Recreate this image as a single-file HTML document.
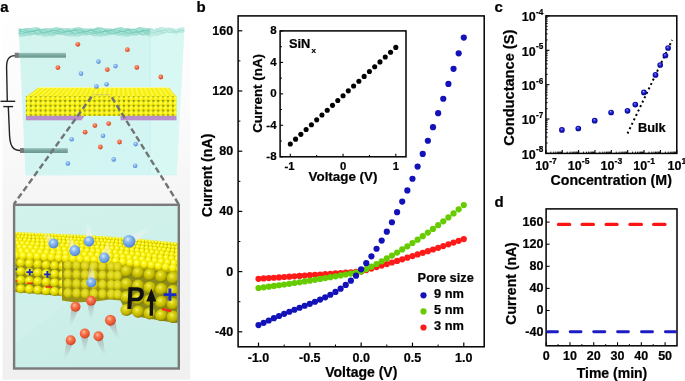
<!DOCTYPE html>
<html><head><meta charset="utf-8"><style>
html,body{margin:0;padding:0;background:#fff;}
body{width:685px;height:381px;overflow:hidden;}
svg{display:block;will-change:transform;}
</style></head><body>
<svg width="685" height="381" viewBox="0 0 685 381">
<defs>
<radialGradient id="sph" cx="0.5" cy="0.5" r="0.5" fx="0.42" fy="0.32">
<stop offset="0" stop-color="#e0e0ff"/><stop offset="0.22" stop-color="#5050e8"/><stop offset="0.6" stop-color="#1414c0"/><stop offset="1" stop-color="#06068a"/>
</radialGradient>
</defs>
<defs>
<linearGradient id="abg" x1="0" y1="0" x2="0" y2="1">
 <stop offset="0" stop-color="#ffffff"/><stop offset="0.3" stop-color="#fbfbfb"/><stop offset="0.55" stop-color="#f5f5f5"/><stop offset="1" stop-color="#f0f0f0"/>
</linearGradient>
<linearGradient id="water" x1="0" y1="0" x2="1" y2="1">
 <stop offset="0" stop-color="#d3f4ee"/><stop offset="1" stop-color="#d2f6f5"/>
</linearGradient>
<linearGradient id="inbg" x1="0" y1="0" x2="0.3" y2="1">
 <stop offset="0" stop-color="#d2f3ec"/><stop offset="1" stop-color="#c9ede7"/>
</linearGradient>
<radialGradient id="ys" cx="0.4" cy="0.35" r="0.65">
 <stop offset="0" stop-color="#ffffb0"/><stop offset="0.3" stop-color="#fffa20"/><stop offset="0.8" stop-color="#eee000"/><stop offset="1" stop-color="#c8b800"/>
</radialGradient>
<radialGradient id="bs" cx="0.4" cy="0.35" r="0.65">
 <stop offset="0" stop-color="#d8ecff"/><stop offset="0.35" stop-color="#8cbcf0"/><stop offset="0.9" stop-color="#5a8ee0"/><stop offset="1" stop-color="#4a7ad0"/>
</radialGradient>
<radialGradient id="rs" cx="0.4" cy="0.35" r="0.65">
 <stop offset="0" stop-color="#ffc0a0"/><stop offset="0.35" stop-color="#f87850"/><stop offset="0.9" stop-color="#e04a28"/><stop offset="1" stop-color="#c03818"/>
</radialGradient>
<radialGradient id="ysd" cx="0.4" cy="0.35" r="0.65">
 <stop offset="0" stop-color="#ffff90"/><stop offset="0.3" stop-color="#f6ee10"/><stop offset="0.75" stop-color="#d8cc00"/><stop offset="1" stop-color="#989000"/>
</radialGradient>
<radialGradient id="disc" cx="0.45" cy="0.4" r="0.6">
 <stop offset="0" stop-color="#ece640"/><stop offset="0.6" stop-color="#d8d010"/><stop offset="1" stop-color="#a8a000"/>
</radialGradient>
<radialGradient id="ysd2" cx="0.4" cy="0.35" r="0.65">
 <stop offset="0" stop-color="#f0f070"/><stop offset="0.3" stop-color="#dcd410"/><stop offset="0.75" stop-color="#bab000"/><stop offset="1" stop-color="#807800"/>
</radialGradient>
<radialGradient id="ysf" cx="0.45" cy="0.4" r="0.6">
 <stop offset="0" stop-color="#ffffa0"/><stop offset="0.35" stop-color="#fff820"/><stop offset="0.85" stop-color="#f0e400"/><stop offset="1" stop-color="#c8bc00"/>
</radialGradient>
<pattern id="pf" x="26" y="96.2" width="4.9" height="4.8" patternUnits="userSpaceOnUse">
 <rect width="4.9" height="4.8" fill="#4e7040"/>
 <circle cx="2.45" cy="2.4" r="2.62" fill="url(#ysf)"/>
</pattern>
<pattern id="pbig" x="10" y="255" width="9.2" height="9.6" patternUnits="userSpaceOnUse">
 <rect width="9.2" height="9.6" fill="#6f7a20"/>
 <circle cx="4.6" cy="4.8" r="4.7" fill="url(#ys)"/>
</pattern>
<pattern id="pbig2" x="116" y="266" width="11" height="12.5" patternUnits="userSpaceOnUse">
 <rect width="11" height="12.5" fill="#6f7a20"/>
 <circle cx="5.5" cy="6.25" r="5.8" fill="url(#ys)"/>
</pattern>
<pattern id="ptop" x="0" y="0" width="6" height="5" patternUnits="userSpaceOnUse">
 <rect width="6" height="5" fill="#c8bc00"/>
 <ellipse cx="3" cy="2.5" rx="3.1" ry="2.6" fill="url(#ys)"/>
</pattern>
<radialGradient id="trl" cx="0.5" cy="0.5" r="0.5">
 <stop offset="0" stop-color="#ffffff" stop-opacity="0.6"/><stop offset="1" stop-color="#ffffff" stop-opacity="0"/>
</radialGradient>
<linearGradient id="trd" x1="0" y1="0" x2="0" y2="1">
 <stop offset="0" stop-color="#909090" stop-opacity="0.6"/><stop offset="1" stop-color="#a0a0a0" stop-opacity="0"/>
</linearGradient>
<linearGradient id="tru" x1="0" y1="1" x2="0" y2="0">
 <stop offset="0" stop-color="#f4f4f0" stop-opacity="0.95"/><stop offset="0.5" stop-color="#f0f0ec" stop-opacity="0.6"/><stop offset="1" stop-color="#fff" stop-opacity="0"/>
</linearGradient>
<linearGradient id="elec" x1="0" y1="0" x2="0" y2="1">
 <stop offset="0" stop-color="#a2c8c2"/><stop offset="0.4" stop-color="#7eaaa4"/><stop offset="1" stop-color="#6a9690"/>
</linearGradient>
<linearGradient id="surf" x1="0" y1="0" x2="0" y2="1">
 <stop offset="0" stop-color="#b8ece4"/><stop offset="0.5" stop-color="#8ed8cc"/><stop offset="1" stop-color="#c4f0ea"/>
</linearGradient>
</defs>
<rect x="2.5" y="0" width="187.8" height="379.6" fill="url(#abg)"/>
<polygon points="18.7,29 184.3,29.5 176.6,175.3 25.5,175.4" fill="url(#water)"/>
<polygon points="150,37.5 184.3,29.5 176.6,175.3 150,172" fill="#dcf9f4" opacity="0.55"/>
<line x1="150" y1="37" x2="150" y2="172" stroke="#c4eee8" stroke-width="0.8"/>
<clipPath id="bandclip"><polygon points="18.7,28.0 22.5,29.1 26.2,28.1 30.0,28.2 33.8,27.4 37.5,27.0 41.3,28.7 45.0,28.6 48.8,28.3 52.6,28.1 56.3,26.8 60.1,27.7 63.9,28.8 67.6,28.3 71.4,28.6 75.2,27.5 78.9,26.8 82.7,28.4 86.4,28.4 90.2,28.6 94.0,28.4 97.7,26.8 101.5,27.5 105.3,28.4 109.0,28.3 112.8,29.0 116.6,27.7 120.3,26.9 124.1,28.0 127.8,28.0 131.6,28.7 135.4,28.8 139.1,27.0 142.9,27.5 146.7,27.9 150.4,28.1 154.2,29.2 158.0,28.0 161.7,27.1 165.5,27.8 169.2,27.6 173.0,28.7 176.8,29.0 180.5,27.4 184.3,27.5 184.3,32.2 180.5,32.4 176.8,33.6 173.0,32.9 169.2,32.9 165.5,33.0 161.7,33.7 158.0,35.3 154.2,35.8 150.4,37.0 146.7,35.5 142.9,35.7 139.1,34.4 135.4,35.7 131.6,35.6 127.8,37.0 124.1,36.4 120.3,36.1 116.6,35.2 112.8,34.8 109.0,35.5 105.3,35.7 101.5,37.0 97.7,36.1 94.0,36.4 90.2,34.7 86.4,35.4 82.7,34.9 78.9,36.4 75.2,36.4 71.4,36.7 67.6,35.9 63.9,35.1 60.1,35.1 56.3,35.0 52.6,36.5 48.8,36.2 45.0,37.1 41.3,35.4 37.5,35.6 33.8,34.5 30.0,35.7 26.2,35.9 22.5,36.8 18.7,36.6"/></clipPath>
<polygon points="18.7,28.0 22.5,29.1 26.2,28.1 30.0,28.2 33.8,27.4 37.5,27.0 41.3,28.7 45.0,28.6 48.8,28.3 52.6,28.1 56.3,26.8 60.1,27.7 63.9,28.8 67.6,28.3 71.4,28.6 75.2,27.5 78.9,26.8 82.7,28.4 86.4,28.4 90.2,28.6 94.0,28.4 97.7,26.8 101.5,27.5 105.3,28.4 109.0,28.3 112.8,29.0 116.6,27.7 120.3,26.9 124.1,28.0 127.8,28.0 131.6,28.7 135.4,28.8 139.1,27.0 142.9,27.5 146.7,27.9 150.4,28.1 154.2,29.2 158.0,28.0 161.7,27.1 165.5,27.8 169.2,27.6 173.0,28.7 176.8,29.0 180.5,27.4 184.3,27.5 184.3,32.2 180.5,32.4 176.8,33.6 173.0,32.9 169.2,32.9 165.5,33.0 161.7,33.7 158.0,35.3 154.2,35.8 150.4,37.0 146.7,35.5 142.9,35.7 139.1,34.4 135.4,35.7 131.6,35.6 127.8,37.0 124.1,36.4 120.3,36.1 116.6,35.2 112.8,34.8 109.0,35.5 105.3,35.7 101.5,37.0 97.7,36.1 94.0,36.4 90.2,34.7 86.4,35.4 82.7,34.9 78.9,36.4 75.2,36.4 71.4,36.7 67.6,35.9 63.9,35.1 60.1,35.1 56.3,35.0 52.6,36.5 48.8,36.2 45.0,37.1 41.3,35.4 37.5,35.6 33.8,34.5 30.0,35.7 26.2,35.9 22.5,36.8 18.7,36.6" fill="#b0e6da"/>
<g clip-path="url(#bandclip)">
<polyline points="18.7,28.6 22.5,29.6 26.2,29.1 30.0,28.0 33.8,27.6 37.5,28.9 41.3,29.5 45.0,29.1 48.8,27.6 52.6,28.1 56.3,28.8 60.1,29.9 63.9,28.4 67.6,28.0 71.4,27.7 75.2,29.6 78.9,29.2 82.7,28.9 86.4,27.2 90.2,28.6 94.0,28.9 97.7,29.9 101.5,27.8 105.3,28.1 109.0,27.9 112.8,30.0 116.6,28.8 120.3,28.6 124.1,27.1 127.8,29.2 131.6,29.0 135.4,29.7 139.1,27.3 142.9,28.3 146.7,28.2 150.4,30.2 154.2,28.3 158.0,28.4 161.7,27.2 165.5,29.6 169.2,29.0 173.0,29.3 176.8,27.1 180.5,28.6 184.3,28.6" fill="none" stroke="#a0dccf" stroke-width="1.0" opacity="0.8"/>
<polyline points="18.7,31.0 22.5,29.2 26.2,29.1 30.0,28.5 33.8,30.6 37.5,30.1 41.3,29.9 45.0,28.2 48.8,29.5 52.6,29.9 56.3,30.7 60.1,29.0 63.9,28.8 67.6,29.0 71.4,30.7 75.2,30.0 78.9,29.3 82.7,28.4 86.4,29.7 90.2,30.4 94.0,30.2 97.7,28.8 101.5,28.7 105.3,29.7 109.0,30.5 112.8,29.9 116.6,28.7 120.3,28.8 124.1,29.8 127.8,30.7 131.6,29.5 135.4,28.8 139.1,28.7 142.9,30.3 146.7,30.2 150.4,29.7 154.2,28.3 158.0,29.4 161.7,30.0 165.5,30.7 169.2,28.9 173.0,28.9 176.8,28.9 180.5,30.8 184.3,29.8" fill="none" stroke="#8cd4c5" stroke-width="1.0" opacity="0.8"/>
<polyline points="18.7,30.8 22.5,28.9 26.2,30.8 30.0,30.8 33.8,31.8 37.5,29.5 41.3,30.1 45.0,29.8 48.8,32.0 52.6,30.5 56.3,30.5 60.1,29.0 63.9,31.2 67.6,30.9 71.4,31.5 75.2,29.1 78.9,30.3 82.7,30.3 86.4,32.1 90.2,30.1 94.0,30.1 97.7,29.3 101.5,31.6 105.3,30.9 109.0,31.0 112.8,29.0 116.6,30.5 120.3,30.8 124.1,31.8 127.8,29.8 131.6,29.9 135.4,29.8 139.1,31.7 142.9,30.9 146.7,30.4 150.4,29.2 154.2,30.7 158.0,31.2 161.7,31.3 165.5,29.6 169.2,29.8 173.0,30.5 176.8,31.6 180.5,30.8 184.3,29.8" fill="none" stroke="#78ccba" stroke-width="1.0" opacity="0.8"/>
<polyline points="18.7,30.6 22.5,31.5 26.2,32.6 30.0,31.7 33.8,30.9 37.5,30.4 41.3,32.0 45.0,32.2 48.8,31.9 52.6,30.3 56.3,31.1 60.1,31.6 63.9,32.8 67.6,31.1 71.4,30.9 75.2,30.5 78.9,32.6 82.7,31.9 86.4,31.7 90.2,30.0 94.0,31.6 97.7,31.8 101.5,32.7 105.3,30.5 109.0,31.0 112.8,30.8 116.6,32.9 120.3,31.5 124.1,31.4 127.8,29.9 131.6,32.2 135.4,31.8 139.1,32.5 142.9,30.1 146.7,31.2 150.4,31.2 154.2,33.0 158.0,31.1 161.7,31.2 165.5,30.2 169.2,32.6 173.0,31.8 176.8,32.0 180.5,29.9 184.3,31.5" fill="none" stroke="#6ac5b2" stroke-width="1.0" opacity="0.8"/>
<polyline points="18.7,32.4 22.5,33.8 26.2,32.0 30.0,31.8 33.8,31.5 37.5,33.4 41.3,33.0 45.0,32.5 48.8,31.1 52.6,32.3 56.3,33.0 60.1,33.4 63.9,31.8 67.6,31.6 71.4,32.1 75.2,33.5 78.9,32.9 82.7,31.9 86.4,31.4 90.2,32.5 94.0,33.4 97.7,32.8 101.5,31.7 105.3,31.5 109.0,32.8 112.8,33.3 116.6,32.8 120.3,31.4 124.1,31.9 127.8,32.7 131.6,33.6 135.4,32.2 139.1,31.7 142.9,31.6 146.7,33.4 150.4,33.0 154.2,32.6 158.0,31.0 161.7,32.5 165.5,32.8 169.2,33.6 173.0,31.6 176.8,31.9 180.5,31.8 184.3,33.8" fill="none" stroke="#72c9b7" stroke-width="1.0" opacity="0.8"/>
<polyline points="18.7,33.6 22.5,33.6 26.2,31.8 30.0,33.8 33.8,33.7 37.5,34.6 41.3,32.2 45.0,33.0 48.8,32.8 52.6,34.9 56.3,33.2 60.1,33.2 63.9,31.9 67.6,34.2 71.4,33.8 75.2,34.2 78.9,31.9 82.7,33.2 86.4,33.3 90.2,34.9 94.0,32.9 97.7,32.9 101.5,32.3 105.3,34.5 109.0,33.8 112.8,33.6 116.6,31.9 120.3,33.4 124.1,33.8 127.8,34.5 131.6,32.6 135.4,32.7 139.1,32.9 142.9,34.5 146.7,33.7 150.4,33.0 154.2,32.2 158.0,33.6 161.7,34.2 165.5,34.0 169.2,32.5 173.0,32.6 176.8,33.5 180.5,34.4 184.3,33.6" fill="none" stroke="#80cfbf" stroke-width="1.0" opacity="0.8"/>
<polyline points="18.7,33.4 22.5,33.6 26.2,34.3 30.0,35.5 33.8,34.3 37.5,33.7 41.3,33.2 45.0,35.1 48.8,34.9 52.6,34.8 56.3,33.0 60.1,34.1 63.9,34.5 67.6,35.7 71.4,33.7 75.2,33.8 78.9,33.4 82.7,35.6 86.4,34.6 90.2,34.5 94.0,32.8 97.7,34.7 101.5,34.6 105.3,35.5 109.0,33.2 112.8,33.9 116.6,33.7 120.3,35.9 124.1,34.2 127.8,34.2 131.6,32.8 135.4,35.1 139.1,34.7 142.9,35.2 146.7,32.9 150.4,34.1 154.2,34.1 158.0,35.9 161.7,33.8 165.5,33.9 169.2,33.2 173.0,35.5 176.8,34.7 180.5,34.7 184.3,32.8" fill="none" stroke="#90d6c8" stroke-width="1.0" opacity="0.8"/>
<polyline points="18.7,35.0 22.5,35.5 26.2,36.5 30.0,34.8 33.8,34.6 37.5,34.5 41.3,36.3 45.0,35.8 48.8,35.2 52.6,34.0 56.3,35.2 60.1,36.0 63.9,36.1 67.6,34.6 71.4,34.4 75.2,35.2 78.9,36.2 82.7,35.8 86.4,34.6 90.2,34.4 94.0,35.4 97.7,36.3 101.5,35.5 105.3,34.6 109.0,34.3 112.8,35.8 116.6,36.0 120.3,35.6 124.1,34.1 127.8,34.9 131.6,35.5 135.4,36.5 139.1,34.8 142.9,34.6 146.7,34.4 150.4,36.4 154.2,35.7 158.0,35.4 161.7,33.8 165.5,35.5 169.2,35.6 173.0,36.4 176.8,34.2 180.5,34.8 184.3,34.7" fill="none" stroke="#a4dfd3" stroke-width="1.0" opacity="0.8"/>
<polyline points="18.7,37.7 22.5,36.3 26.2,36.3 30.0,34.6 33.8,36.8 37.5,36.6 41.3,37.4 45.0,35.0 48.8,35.9 52.6,35.8 56.3,37.8 60.1,36.0 63.9,36.0 67.6,34.9 71.4,37.1 75.2,36.7 78.9,36.9 82.7,34.8 86.4,36.1 90.2,36.3 94.0,37.6 97.7,35.7 101.5,35.7 105.3,35.3 109.0,37.3 112.8,36.7 116.6,36.3 120.3,34.9 124.1,36.3 127.8,36.8 131.6,37.2 135.4,35.5 139.1,35.5 142.9,35.9 146.7,37.3 150.4,36.6 154.2,35.7 158.0,35.2 161.7,36.4 165.5,37.1 169.2,36.6 173.0,35.4 176.8,35.4 180.5,36.6 184.3,37.1" fill="none" stroke="#b8e8de" stroke-width="1.0" opacity="0.8"/>
<polygon points="150,20 190,20 190,40 150,40" fill="#e4faf6" opacity="0.45"/>
</g>
<path d="M15.2,55.6 C9,55.6 6.6,59 6.6,67 L7.3,101.3" fill="none" stroke="#222" stroke-width="1.4"/>
<line x1="0.5" y1="101.3" x2="15.2" y2="101.3" stroke="#222" stroke-width="1.4"/>
<line x1="3.3" y1="106.6" x2="13.1" y2="106.6" stroke="#222" stroke-width="1.4"/>
<path d="M8.3,106.6 L9.6,136 C10.2,146 13,150.5 20.3,150.5" fill="none" stroke="#222" stroke-width="1.4"/>
<rect x="14.8" y="52.8" width="51.2" height="4.9" fill="url(#elec)"/>
<rect x="14.8" y="52.8" width="4.0" height="4.9" fill="#7a7a7a"/>
<rect x="20.0" y="148.1" width="47.8" height="4.9" fill="url(#elec)"/>
<rect x="20.0" y="148.1" width="4.0" height="4.9" fill="#7a7a7a"/>
<polygon points="38.9,87.4 168.4,87.4 176.5,97.3 25.9,97.3" fill="#faf41c"/>
<line x1="38.9" y1="87.6" x2="25.9" y2="97.2" stroke="#e8dc00" stroke-width="0.9" opacity="0.6"/>
<line x1="41.1" y1="87.6" x2="28.4" y2="97.2" stroke="#ffff90" stroke-width="0.9" opacity="0.6"/>
<line x1="43.2" y1="87.6" x2="30.9" y2="97.2" stroke="#e8dc00" stroke-width="0.9" opacity="0.6"/>
<line x1="45.4" y1="87.6" x2="33.4" y2="97.2" stroke="#ffff90" stroke-width="0.9" opacity="0.6"/>
<line x1="47.5" y1="87.6" x2="35.9" y2="97.2" stroke="#e8dc00" stroke-width="0.9" opacity="0.6"/>
<line x1="49.7" y1="87.6" x2="38.5" y2="97.2" stroke="#ffff90" stroke-width="0.9" opacity="0.6"/>
<line x1="51.8" y1="87.6" x2="41.0" y2="97.2" stroke="#e8dc00" stroke-width="0.9" opacity="0.6"/>
<line x1="54.0" y1="87.6" x2="43.5" y2="97.2" stroke="#ffff90" stroke-width="0.9" opacity="0.6"/>
<line x1="56.2" y1="87.6" x2="46.0" y2="97.2" stroke="#e8dc00" stroke-width="0.9" opacity="0.6"/>
<line x1="58.3" y1="87.6" x2="48.5" y2="97.2" stroke="#ffff90" stroke-width="0.9" opacity="0.6"/>
<line x1="60.5" y1="87.6" x2="51.0" y2="97.2" stroke="#e8dc00" stroke-width="0.9" opacity="0.6"/>
<line x1="62.6" y1="87.6" x2="53.5" y2="97.2" stroke="#ffff90" stroke-width="0.9" opacity="0.6"/>
<line x1="64.8" y1="87.6" x2="56.0" y2="97.2" stroke="#e8dc00" stroke-width="0.9" opacity="0.6"/>
<line x1="67.0" y1="87.6" x2="58.5" y2="97.2" stroke="#ffff90" stroke-width="0.9" opacity="0.6"/>
<line x1="69.1" y1="87.6" x2="61.0" y2="97.2" stroke="#e8dc00" stroke-width="0.9" opacity="0.6"/>
<line x1="71.3" y1="87.6" x2="63.5" y2="97.2" stroke="#ffff90" stroke-width="0.9" opacity="0.6"/>
<line x1="73.4" y1="87.6" x2="66.1" y2="97.2" stroke="#e8dc00" stroke-width="0.9" opacity="0.6"/>
<line x1="75.6" y1="87.6" x2="68.6" y2="97.2" stroke="#ffff90" stroke-width="0.9" opacity="0.6"/>
<line x1="77.8" y1="87.6" x2="71.1" y2="97.2" stroke="#e8dc00" stroke-width="0.9" opacity="0.6"/>
<line x1="79.9" y1="87.6" x2="73.6" y2="97.2" stroke="#ffff90" stroke-width="0.9" opacity="0.6"/>
<line x1="82.1" y1="87.6" x2="76.1" y2="97.2" stroke="#e8dc00" stroke-width="0.9" opacity="0.6"/>
<line x1="84.2" y1="87.6" x2="78.6" y2="97.2" stroke="#ffff90" stroke-width="0.9" opacity="0.6"/>
<line x1="86.4" y1="87.6" x2="81.1" y2="97.2" stroke="#e8dc00" stroke-width="0.9" opacity="0.6"/>
<line x1="88.5" y1="87.6" x2="83.6" y2="97.2" stroke="#ffff90" stroke-width="0.9" opacity="0.6"/>
<line x1="90.7" y1="87.6" x2="86.1" y2="97.2" stroke="#e8dc00" stroke-width="0.9" opacity="0.6"/>
<line x1="92.9" y1="87.6" x2="88.7" y2="97.2" stroke="#ffff90" stroke-width="0.9" opacity="0.6"/>
<line x1="95.0" y1="87.6" x2="91.2" y2="97.2" stroke="#e8dc00" stroke-width="0.9" opacity="0.6"/>
<line x1="97.2" y1="87.6" x2="93.7" y2="97.2" stroke="#ffff90" stroke-width="0.9" opacity="0.6"/>
<line x1="99.3" y1="87.6" x2="96.2" y2="97.2" stroke="#e8dc00" stroke-width="0.9" opacity="0.6"/>
<line x1="101.5" y1="87.6" x2="98.7" y2="97.2" stroke="#ffff90" stroke-width="0.9" opacity="0.6"/>
<line x1="103.7" y1="87.6" x2="101.2" y2="97.2" stroke="#e8dc00" stroke-width="0.9" opacity="0.6"/>
<line x1="105.8" y1="87.6" x2="103.7" y2="97.2" stroke="#ffff90" stroke-width="0.9" opacity="0.6"/>
<line x1="108.0" y1="87.6" x2="106.2" y2="97.2" stroke="#e8dc00" stroke-width="0.9" opacity="0.6"/>
<line x1="110.1" y1="87.6" x2="108.7" y2="97.2" stroke="#ffff90" stroke-width="0.9" opacity="0.6"/>
<line x1="112.3" y1="87.6" x2="111.2" y2="97.2" stroke="#e8dc00" stroke-width="0.9" opacity="0.6"/>
<line x1="114.4" y1="87.6" x2="113.8" y2="97.2" stroke="#ffff90" stroke-width="0.9" opacity="0.6"/>
<line x1="116.6" y1="87.6" x2="116.3" y2="97.2" stroke="#e8dc00" stroke-width="0.9" opacity="0.6"/>
<line x1="118.8" y1="87.6" x2="118.8" y2="97.2" stroke="#ffff90" stroke-width="0.9" opacity="0.6"/>
<line x1="120.9" y1="87.6" x2="121.3" y2="97.2" stroke="#e8dc00" stroke-width="0.9" opacity="0.6"/>
<line x1="123.1" y1="87.6" x2="123.8" y2="97.2" stroke="#ffff90" stroke-width="0.9" opacity="0.6"/>
<line x1="125.2" y1="87.6" x2="126.3" y2="97.2" stroke="#e8dc00" stroke-width="0.9" opacity="0.6"/>
<line x1="127.4" y1="87.6" x2="128.8" y2="97.2" stroke="#ffff90" stroke-width="0.9" opacity="0.6"/>
<line x1="129.6" y1="87.6" x2="131.3" y2="97.2" stroke="#e8dc00" stroke-width="0.9" opacity="0.6"/>
<line x1="131.7" y1="87.6" x2="133.8" y2="97.2" stroke="#ffff90" stroke-width="0.9" opacity="0.6"/>
<line x1="133.9" y1="87.6" x2="136.3" y2="97.2" stroke="#e8dc00" stroke-width="0.9" opacity="0.6"/>
<line x1="136.0" y1="87.6" x2="138.8" y2="97.2" stroke="#ffff90" stroke-width="0.9" opacity="0.6"/>
<line x1="138.2" y1="87.6" x2="141.4" y2="97.2" stroke="#e8dc00" stroke-width="0.9" opacity="0.6"/>
<line x1="140.3" y1="87.6" x2="143.9" y2="97.2" stroke="#ffff90" stroke-width="0.9" opacity="0.6"/>
<line x1="142.5" y1="87.6" x2="146.4" y2="97.2" stroke="#e8dc00" stroke-width="0.9" opacity="0.6"/>
<line x1="144.7" y1="87.6" x2="148.9" y2="97.2" stroke="#ffff90" stroke-width="0.9" opacity="0.6"/>
<line x1="146.8" y1="87.6" x2="151.4" y2="97.2" stroke="#e8dc00" stroke-width="0.9" opacity="0.6"/>
<line x1="149.0" y1="87.6" x2="153.9" y2="97.2" stroke="#ffff90" stroke-width="0.9" opacity="0.6"/>
<line x1="151.1" y1="87.6" x2="156.4" y2="97.2" stroke="#e8dc00" stroke-width="0.9" opacity="0.6"/>
<line x1="153.3" y1="87.6" x2="158.9" y2="97.2" stroke="#ffff90" stroke-width="0.9" opacity="0.6"/>
<line x1="155.4" y1="87.6" x2="161.4" y2="97.2" stroke="#e8dc00" stroke-width="0.9" opacity="0.6"/>
<line x1="157.6" y1="87.6" x2="164.0" y2="97.2" stroke="#ffff90" stroke-width="0.9" opacity="0.6"/>
<line x1="159.8" y1="87.6" x2="166.5" y2="97.2" stroke="#e8dc00" stroke-width="0.9" opacity="0.6"/>
<line x1="161.9" y1="87.6" x2="169.0" y2="97.2" stroke="#ffff90" stroke-width="0.9" opacity="0.6"/>
<line x1="164.1" y1="87.6" x2="171.5" y2="97.2" stroke="#e8dc00" stroke-width="0.9" opacity="0.6"/>
<line x1="166.2" y1="87.6" x2="174.0" y2="97.2" stroke="#ffff90" stroke-width="0.9" opacity="0.6"/>
<line x1="168.4" y1="87.6" x2="176.5" y2="97.2" stroke="#e8dc00" stroke-width="0.9" opacity="0.6"/>
<line x1="38.9" y1="87.6" x2="168.4" y2="87.6" stroke="#fffab0" stroke-width="0.8"/>
<rect x="25.9" y="96.3" width="150.6" height="19.6" fill="url(#pf)"/>
<rect x="25.9" y="115.9" width="56" height="4.4" fill="#bb8ecb"/>
<rect x="120.5" y="115.9" width="56" height="4.4" fill="#bb8ecb"/>
<polygon points="81.9,115.9 84.5,115.9 81.9,119.7" fill="#bb8ecb"/>
<rect x="93" y="94.2" width="17" height="1.0" fill="#b8b890" opacity="0.6"/>
<circle cx="77.8" cy="44.3" r="2.4" fill="url(#rs)"/>
<circle cx="127.4" cy="49.7" r="2.4" fill="url(#rs)"/>
<circle cx="57.9" cy="67.6" r="2.4" fill="url(#rs)"/>
<circle cx="107.3" cy="69.6" r="2.4" fill="url(#rs)"/>
<circle cx="136.8" cy="67.4" r="2.4" fill="url(#rs)"/>
<circle cx="160.8" cy="77.0" r="2.4" fill="url(#rs)"/>
<circle cx="94.9" cy="125.6" r="2.4" fill="url(#rs)"/>
<circle cx="108.7" cy="123.6" r="2.4" fill="url(#rs)"/>
<circle cx="85.1" cy="132.2" r="2.4" fill="url(#rs)"/>
<circle cx="119.5" cy="142" r="2.4" fill="url(#rs)"/>
<circle cx="100.4" cy="147" r="2.4" fill="url(#rs)"/>
<circle cx="98.4" cy="61.6" r="2.3" fill="url(#bs)"/>
<circle cx="115.5" cy="66.1" r="2.3" fill="url(#bs)"/>
<circle cx="81" cy="73.6" r="2.3" fill="url(#bs)"/>
<circle cx="106.6" cy="84.2" r="2.3" fill="url(#bs)"/>
<circle cx="96.4" cy="86.4" r="2.3" fill="url(#bs)"/>
<circle cx="71.6" cy="139.2" r="2.3" fill="url(#bs)"/>
<circle cx="103" cy="135.7" r="2.3" fill="url(#bs)"/>
<circle cx="135.6" cy="144.1" r="2.3" fill="url(#bs)"/>
<circle cx="67.8" cy="163.4" r="2.3" fill="url(#bs)"/>
<circle cx="113.7" cy="159.4" r="2.3" fill="url(#bs)"/>
<circle cx="135.1" cy="165.7" r="2.3" fill="url(#bs)"/>
<line x1="91.6" y1="96.6" x2="14.0" y2="204" stroke="#707474" stroke-width="2.4" stroke-dasharray="6 3.2"/>
<line x1="111.8" y1="97.4" x2="178.6" y2="204" stroke="#707474" stroke-width="2.4" stroke-dasharray="6 3.2"/>
<clipPath id="inclip"><rect x="15.3" y="206" width="162.3" height="161.3"/></clipPath>
<rect x="14.1" y="204.8" width="164.7" height="163.7" fill="url(#inbg)"/>
<g clip-path="url(#inclip)">
<polygon points="14.1,345 70,300 14.1,300" fill="#d4f2ee" opacity="0.5"/>
<polygon points="10.0,232.7 86.0,236.0 130.0,239.0 182.0,244.0 182.0,324.0 160.0,320.5 140.0,317.0 125.0,311.0 123.0,306.0 120.0,299.5 110.0,298.5 95.0,300.5 75.0,301.5 62.0,296.0 55.0,295.5 10.0,291.5" fill="#8a8a18"/>
<polygon points="10.0,232.7 86.0,236.0 130.0,239.0 182.0,244.0 182.0,274.0 120.0,266.0 62.0,262.5 10.0,259.5" fill="#b8b000"/>
<circle cx="10.1" cy="233.2" r="1.75" fill="url(#ys)"/>
<circle cx="13.4" cy="233.4" r="1.75" fill="url(#ys)"/>
<circle cx="16.6" cy="233.5" r="1.75" fill="url(#ys)"/>
<circle cx="19.9" cy="233.7" r="1.75" fill="url(#ys)"/>
<circle cx="23.1" cy="233.8" r="1.75" fill="url(#ys)"/>
<circle cx="26.3" cy="234.0" r="1.75" fill="url(#ys)"/>
<circle cx="29.6" cy="234.1" r="1.75" fill="url(#ys)"/>
<circle cx="32.8" cy="234.2" r="1.75" fill="url(#ys)"/>
<circle cx="36.1" cy="234.4" r="1.75" fill="url(#ys)"/>
<circle cx="39.3" cy="234.5" r="1.75" fill="url(#ys)"/>
<circle cx="42.6" cy="234.7" r="1.75" fill="url(#ys)"/>
<circle cx="45.8" cy="234.8" r="1.75" fill="url(#ys)"/>
<circle cx="49.0" cy="234.9" r="1.75" fill="url(#ys)"/>
<circle cx="52.3" cy="235.1" r="1.75" fill="url(#ys)"/>
<circle cx="55.5" cy="235.2" r="1.75" fill="url(#ys)"/>
<circle cx="58.8" cy="235.4" r="1.75" fill="url(#ys)"/>
<circle cx="62.0" cy="235.5" r="1.75" fill="url(#ys)"/>
<circle cx="65.2" cy="235.7" r="1.75" fill="url(#ys)"/>
<circle cx="68.5" cy="235.8" r="1.75" fill="url(#ys)"/>
<circle cx="71.7" cy="235.9" r="1.75" fill="url(#ys)"/>
<circle cx="75.0" cy="236.1" r="1.75" fill="url(#ys)"/>
<circle cx="78.2" cy="236.2" r="1.75" fill="url(#ys)"/>
<circle cx="81.4" cy="236.4" r="1.75" fill="url(#ys)"/>
<circle cx="84.7" cy="236.5" r="1.75" fill="url(#ys)"/>
<circle cx="87.9" cy="236.7" r="1.75" fill="url(#ys)"/>
<circle cx="91.2" cy="236.9" r="1.75" fill="url(#ys)"/>
<circle cx="94.4" cy="237.1" r="1.75" fill="url(#ys)"/>
<circle cx="97.7" cy="237.4" r="1.75" fill="url(#ys)"/>
<circle cx="100.9" cy="237.6" r="1.75" fill="url(#ys)"/>
<circle cx="104.1" cy="237.8" r="1.75" fill="url(#ys)"/>
<circle cx="107.4" cy="238.0" r="1.75" fill="url(#ys)"/>
<circle cx="110.6" cy="238.2" r="1.75" fill="url(#ys)"/>
<circle cx="113.9" cy="238.5" r="1.75" fill="url(#ys)"/>
<circle cx="117.1" cy="238.7" r="1.75" fill="url(#ys)"/>
<circle cx="120.3" cy="238.9" r="1.75" fill="url(#ys)"/>
<circle cx="123.6" cy="239.1" r="1.75" fill="url(#ys)"/>
<circle cx="126.8" cy="239.3" r="1.75" fill="url(#ys)"/>
<circle cx="130.1" cy="239.6" r="1.75" fill="url(#ys)"/>
<circle cx="133.3" cy="239.9" r="1.75" fill="url(#ys)"/>
<circle cx="136.5" cy="240.2" r="1.75" fill="url(#ys)"/>
<circle cx="139.8" cy="240.5" r="1.75" fill="url(#ys)"/>
<circle cx="143.0" cy="240.8" r="1.75" fill="url(#ys)"/>
<circle cx="146.3" cy="241.1" r="1.75" fill="url(#ys)"/>
<circle cx="149.5" cy="241.5" r="1.75" fill="url(#ys)"/>
<circle cx="152.8" cy="241.8" r="1.75" fill="url(#ys)"/>
<circle cx="156.0" cy="242.1" r="1.75" fill="url(#ys)"/>
<circle cx="159.2" cy="242.4" r="1.75" fill="url(#ys)"/>
<circle cx="162.5" cy="242.7" r="1.75" fill="url(#ys)"/>
<circle cx="165.7" cy="243.0" r="1.75" fill="url(#ys)"/>
<circle cx="169.0" cy="243.3" r="1.75" fill="url(#ys)"/>
<circle cx="172.2" cy="243.7" r="1.75" fill="url(#ys)"/>
<circle cx="175.4" cy="244.0" r="1.75" fill="url(#ys)"/>
<circle cx="178.7" cy="244.3" r="1.75" fill="url(#ys)"/>
<circle cx="181.9" cy="244.6" r="1.75" fill="url(#ys)"/>
<circle cx="10.9" cy="236.2" r="2.04" fill="url(#ys)"/>
<circle cx="14.7" cy="236.4" r="2.04" fill="url(#ys)"/>
<circle cx="18.5" cy="236.6" r="2.04" fill="url(#ys)"/>
<circle cx="22.2" cy="236.7" r="2.04" fill="url(#ys)"/>
<circle cx="26.0" cy="236.9" r="2.04" fill="url(#ys)"/>
<circle cx="29.8" cy="237.1" r="2.04" fill="url(#ys)"/>
<circle cx="33.5" cy="237.2" r="2.04" fill="url(#ys)"/>
<circle cx="37.3" cy="237.4" r="2.04" fill="url(#ys)"/>
<circle cx="41.1" cy="237.6" r="2.04" fill="url(#ys)"/>
<circle cx="44.8" cy="237.8" r="2.04" fill="url(#ys)"/>
<circle cx="48.6" cy="237.9" r="2.04" fill="url(#ys)"/>
<circle cx="52.4" cy="238.1" r="2.04" fill="url(#ys)"/>
<circle cx="56.2" cy="238.3" r="2.04" fill="url(#ys)"/>
<circle cx="59.9" cy="238.4" r="2.04" fill="url(#ys)"/>
<circle cx="63.7" cy="238.6" r="2.04" fill="url(#ys)"/>
<circle cx="67.5" cy="238.8" r="2.04" fill="url(#ys)"/>
<circle cx="71.2" cy="239.0" r="2.04" fill="url(#ys)"/>
<circle cx="75.0" cy="239.1" r="2.04" fill="url(#ys)"/>
<circle cx="78.8" cy="239.3" r="2.04" fill="url(#ys)"/>
<circle cx="82.5" cy="239.5" r="2.04" fill="url(#ys)"/>
<circle cx="86.3" cy="239.7" r="2.04" fill="url(#ys)"/>
<circle cx="90.1" cy="239.9" r="2.04" fill="url(#ys)"/>
<circle cx="93.9" cy="240.2" r="2.04" fill="url(#ys)"/>
<circle cx="97.6" cy="240.4" r="2.04" fill="url(#ys)"/>
<circle cx="101.4" cy="240.7" r="2.04" fill="url(#ys)"/>
<circle cx="105.2" cy="240.9" r="2.04" fill="url(#ys)"/>
<circle cx="108.9" cy="241.2" r="2.04" fill="url(#ys)"/>
<circle cx="112.7" cy="241.4" r="2.04" fill="url(#ys)"/>
<circle cx="116.5" cy="241.7" r="2.04" fill="url(#ys)"/>
<circle cx="120.2" cy="241.9" r="2.04" fill="url(#ys)"/>
<circle cx="124.0" cy="242.2" r="2.04" fill="url(#ys)"/>
<circle cx="127.8" cy="242.5" r="2.04" fill="url(#ys)"/>
<circle cx="131.6" cy="242.8" r="2.04" fill="url(#ys)"/>
<circle cx="135.3" cy="243.2" r="2.04" fill="url(#ys)"/>
<circle cx="139.1" cy="243.6" r="2.04" fill="url(#ys)"/>
<circle cx="142.9" cy="244.0" r="2.04" fill="url(#ys)"/>
<circle cx="146.6" cy="244.3" r="2.04" fill="url(#ys)"/>
<circle cx="150.4" cy="244.7" r="2.04" fill="url(#ys)"/>
<circle cx="154.2" cy="245.1" r="2.04" fill="url(#ys)"/>
<circle cx="158.0" cy="245.5" r="2.04" fill="url(#ys)"/>
<circle cx="161.7" cy="245.9" r="2.04" fill="url(#ys)"/>
<circle cx="165.5" cy="246.2" r="2.04" fill="url(#ys)"/>
<circle cx="169.3" cy="246.6" r="2.04" fill="url(#ys)"/>
<circle cx="173.0" cy="247.0" r="2.04" fill="url(#ys)"/>
<circle cx="176.8" cy="247.4" r="2.04" fill="url(#ys)"/>
<circle cx="180.6" cy="247.8" r="2.04" fill="url(#ys)"/>
<circle cx="11.8" cy="239.5" r="2.35" fill="url(#ys)"/>
<circle cx="16.1" cy="239.7" r="2.35" fill="url(#ys)"/>
<circle cx="20.4" cy="239.9" r="2.35" fill="url(#ys)"/>
<circle cx="24.8" cy="240.1" r="2.35" fill="url(#ys)"/>
<circle cx="29.1" cy="240.3" r="2.35" fill="url(#ys)"/>
<circle cx="33.5" cy="240.5" r="2.35" fill="url(#ys)"/>
<circle cx="37.8" cy="240.7" r="2.35" fill="url(#ys)"/>
<circle cx="42.2" cy="240.9" r="2.35" fill="url(#ys)"/>
<circle cx="46.5" cy="241.1" r="2.35" fill="url(#ys)"/>
<circle cx="50.9" cy="241.3" r="2.35" fill="url(#ys)"/>
<circle cx="55.2" cy="241.5" r="2.35" fill="url(#ys)"/>
<circle cx="59.6" cy="241.7" r="2.35" fill="url(#ys)"/>
<circle cx="63.9" cy="241.9" r="2.35" fill="url(#ys)"/>
<circle cx="68.3" cy="242.1" r="2.35" fill="url(#ys)"/>
<circle cx="72.6" cy="242.3" r="2.35" fill="url(#ys)"/>
<circle cx="77.0" cy="242.6" r="2.35" fill="url(#ys)"/>
<circle cx="81.3" cy="242.8" r="2.35" fill="url(#ys)"/>
<circle cx="85.7" cy="243.0" r="2.35" fill="url(#ys)"/>
<circle cx="90.0" cy="243.3" r="2.35" fill="url(#ys)"/>
<circle cx="94.4" cy="243.5" r="2.35" fill="url(#ys)"/>
<circle cx="98.7" cy="243.8" r="2.35" fill="url(#ys)"/>
<circle cx="103.0" cy="244.1" r="2.35" fill="url(#ys)"/>
<circle cx="107.4" cy="244.4" r="2.35" fill="url(#ys)"/>
<circle cx="111.7" cy="244.7" r="2.35" fill="url(#ys)"/>
<circle cx="116.1" cy="245.0" r="2.35" fill="url(#ys)"/>
<circle cx="120.4" cy="245.3" r="2.35" fill="url(#ys)"/>
<circle cx="124.8" cy="245.6" r="2.35" fill="url(#ys)"/>
<circle cx="129.1" cy="246.0" r="2.35" fill="url(#ys)"/>
<circle cx="133.5" cy="246.4" r="2.35" fill="url(#ys)"/>
<circle cx="137.8" cy="246.9" r="2.35" fill="url(#ys)"/>
<circle cx="142.2" cy="247.3" r="2.35" fill="url(#ys)"/>
<circle cx="146.5" cy="247.8" r="2.35" fill="url(#ys)"/>
<circle cx="150.9" cy="248.3" r="2.35" fill="url(#ys)"/>
<circle cx="155.2" cy="248.7" r="2.35" fill="url(#ys)"/>
<circle cx="159.6" cy="249.2" r="2.35" fill="url(#ys)"/>
<circle cx="163.9" cy="249.6" r="2.35" fill="url(#ys)"/>
<circle cx="168.3" cy="250.1" r="2.35" fill="url(#ys)"/>
<circle cx="172.6" cy="250.5" r="2.35" fill="url(#ys)"/>
<circle cx="177.0" cy="251.0" r="2.35" fill="url(#ys)"/>
<circle cx="181.3" cy="251.4" r="2.35" fill="url(#ys)"/>
<circle cx="12.7" cy="243.0" r="2.69" fill="url(#ys)"/>
<circle cx="17.6" cy="243.3" r="2.69" fill="url(#ys)"/>
<circle cx="22.6" cy="243.5" r="2.69" fill="url(#ys)"/>
<circle cx="27.6" cy="243.7" r="2.69" fill="url(#ys)"/>
<circle cx="32.6" cy="244.0" r="2.69" fill="url(#ys)"/>
<circle cx="37.5" cy="244.2" r="2.69" fill="url(#ys)"/>
<circle cx="42.5" cy="244.5" r="2.69" fill="url(#ys)"/>
<circle cx="47.5" cy="244.7" r="2.69" fill="url(#ys)"/>
<circle cx="52.4" cy="245.0" r="2.69" fill="url(#ys)"/>
<circle cx="57.4" cy="245.2" r="2.69" fill="url(#ys)"/>
<circle cx="62.4" cy="245.4" r="2.69" fill="url(#ys)"/>
<circle cx="67.4" cy="245.7" r="2.69" fill="url(#ys)"/>
<circle cx="72.3" cy="245.9" r="2.69" fill="url(#ys)"/>
<circle cx="77.3" cy="246.2" r="2.69" fill="url(#ys)"/>
<circle cx="82.3" cy="246.4" r="2.69" fill="url(#ys)"/>
<circle cx="87.3" cy="246.7" r="2.69" fill="url(#ys)"/>
<circle cx="92.2" cy="247.0" r="2.69" fill="url(#ys)"/>
<circle cx="97.2" cy="247.4" r="2.69" fill="url(#ys)"/>
<circle cx="102.2" cy="247.7" r="2.69" fill="url(#ys)"/>
<circle cx="107.1" cy="248.0" r="2.69" fill="url(#ys)"/>
<circle cx="112.1" cy="248.3" r="2.69" fill="url(#ys)"/>
<circle cx="117.1" cy="248.6" r="2.69" fill="url(#ys)"/>
<circle cx="122.1" cy="249.0" r="2.69" fill="url(#ys)"/>
<circle cx="127.0" cy="249.5" r="2.69" fill="url(#ys)"/>
<circle cx="132.0" cy="250.0" r="2.69" fill="url(#ys)"/>
<circle cx="137.0" cy="250.5" r="2.69" fill="url(#ys)"/>
<circle cx="142.0" cy="251.0" r="2.69" fill="url(#ys)"/>
<circle cx="146.9" cy="251.6" r="2.69" fill="url(#ys)"/>
<circle cx="151.9" cy="252.1" r="2.69" fill="url(#ys)"/>
<circle cx="156.9" cy="252.7" r="2.69" fill="url(#ys)"/>
<circle cx="161.8" cy="253.2" r="2.69" fill="url(#ys)"/>
<circle cx="166.8" cy="253.8" r="2.69" fill="url(#ys)"/>
<circle cx="171.8" cy="254.3" r="2.69" fill="url(#ys)"/>
<circle cx="176.8" cy="254.8" r="2.69" fill="url(#ys)"/>
<circle cx="181.7" cy="255.4" r="2.69" fill="url(#ys)"/>
<circle cx="13.6" cy="246.8" r="3.05" fill="url(#ys)"/>
<circle cx="19.3" cy="247.1" r="3.05" fill="url(#ys)"/>
<circle cx="24.9" cy="247.4" r="3.05" fill="url(#ys)"/>
<circle cx="30.6" cy="247.7" r="3.05" fill="url(#ys)"/>
<circle cx="36.2" cy="248.0" r="3.05" fill="url(#ys)"/>
<circle cx="41.9" cy="248.3" r="3.05" fill="url(#ys)"/>
<circle cx="47.5" cy="248.5" r="3.05" fill="url(#ys)"/>
<circle cx="53.2" cy="248.8" r="3.05" fill="url(#ys)"/>
<circle cx="58.8" cy="249.1" r="3.05" fill="url(#ys)"/>
<circle cx="64.5" cy="249.4" r="3.05" fill="url(#ys)"/>
<circle cx="70.1" cy="249.7" r="3.05" fill="url(#ys)"/>
<circle cx="75.7" cy="250.0" r="3.05" fill="url(#ys)"/>
<circle cx="81.4" cy="250.3" r="3.05" fill="url(#ys)"/>
<circle cx="87.0" cy="250.6" r="3.05" fill="url(#ys)"/>
<circle cx="92.7" cy="251.0" r="3.05" fill="url(#ys)"/>
<circle cx="98.3" cy="251.3" r="3.05" fill="url(#ys)"/>
<circle cx="104.0" cy="251.7" r="3.05" fill="url(#ys)"/>
<circle cx="109.6" cy="252.0" r="3.05" fill="url(#ys)"/>
<circle cx="115.3" cy="252.4" r="3.05" fill="url(#ys)"/>
<circle cx="120.9" cy="252.8" r="3.05" fill="url(#ys)"/>
<circle cx="126.6" cy="253.4" r="3.05" fill="url(#ys)"/>
<circle cx="132.2" cy="254.0" r="3.05" fill="url(#ys)"/>
<circle cx="137.9" cy="254.6" r="3.05" fill="url(#ys)"/>
<circle cx="143.5" cy="255.2" r="3.05" fill="url(#ys)"/>
<circle cx="149.1" cy="255.9" r="3.05" fill="url(#ys)"/>
<circle cx="154.8" cy="256.5" r="3.05" fill="url(#ys)"/>
<circle cx="160.4" cy="257.2" r="3.05" fill="url(#ys)"/>
<circle cx="166.1" cy="257.8" r="3.05" fill="url(#ys)"/>
<circle cx="171.7" cy="258.4" r="3.05" fill="url(#ys)"/>
<circle cx="177.4" cy="259.1" r="3.05" fill="url(#ys)"/>
<circle cx="183.0" cy="259.6" r="3.05" fill="url(#ys)"/>
<circle cx="14.7" cy="250.9" r="3.44" fill="url(#ys)"/>
<circle cx="21.1" cy="251.2" r="3.44" fill="url(#ys)"/>
<circle cx="27.4" cy="251.6" r="3.44" fill="url(#ys)"/>
<circle cx="33.8" cy="251.9" r="3.44" fill="url(#ys)"/>
<circle cx="40.2" cy="252.3" r="3.44" fill="url(#ys)"/>
<circle cx="46.5" cy="252.6" r="3.44" fill="url(#ys)"/>
<circle cx="52.9" cy="252.9" r="3.44" fill="url(#ys)"/>
<circle cx="59.3" cy="253.3" r="3.44" fill="url(#ys)"/>
<circle cx="65.6" cy="253.6" r="3.44" fill="url(#ys)"/>
<circle cx="72.0" cy="254.0" r="3.44" fill="url(#ys)"/>
<circle cx="78.4" cy="254.3" r="3.44" fill="url(#ys)"/>
<circle cx="84.7" cy="254.7" r="3.44" fill="url(#ys)"/>
<circle cx="91.1" cy="255.0" r="3.44" fill="url(#ys)"/>
<circle cx="97.5" cy="255.4" r="3.44" fill="url(#ys)"/>
<circle cx="103.8" cy="255.8" r="3.44" fill="url(#ys)"/>
<circle cx="110.2" cy="256.2" r="3.44" fill="url(#ys)"/>
<circle cx="116.6" cy="256.6" r="3.44" fill="url(#ys)"/>
<circle cx="122.9" cy="257.2" r="3.44" fill="url(#ys)"/>
<circle cx="129.3" cy="257.9" r="3.44" fill="url(#ys)"/>
<circle cx="135.7" cy="258.6" r="3.44" fill="url(#ys)"/>
<circle cx="142.0" cy="259.4" r="3.44" fill="url(#ys)"/>
<circle cx="148.4" cy="260.1" r="3.44" fill="url(#ys)"/>
<circle cx="154.8" cy="260.9" r="3.44" fill="url(#ys)"/>
<circle cx="161.1" cy="261.6" r="3.44" fill="url(#ys)"/>
<circle cx="167.5" cy="262.4" r="3.44" fill="url(#ys)"/>
<circle cx="173.9" cy="263.1" r="3.44" fill="url(#ys)"/>
<circle cx="180.3" cy="263.9" r="3.44" fill="url(#ys)"/>
<circle cx="15.8" cy="255.3" r="3.86" fill="url(#ys)"/>
<circle cx="22.9" cy="255.7" r="3.86" fill="url(#ys)"/>
<circle cx="30.1" cy="256.1" r="3.86" fill="url(#ys)"/>
<circle cx="37.2" cy="256.4" r="3.86" fill="url(#ys)"/>
<circle cx="44.4" cy="256.8" r="3.86" fill="url(#ys)"/>
<circle cx="51.5" cy="257.2" r="3.86" fill="url(#ys)"/>
<circle cx="58.6" cy="257.6" r="3.86" fill="url(#ys)"/>
<circle cx="65.8" cy="258.0" r="3.86" fill="url(#ys)"/>
<circle cx="72.9" cy="258.4" r="3.86" fill="url(#ys)"/>
<circle cx="80.0" cy="258.9" r="3.86" fill="url(#ys)"/>
<circle cx="87.2" cy="259.3" r="3.86" fill="url(#ys)"/>
<circle cx="94.3" cy="259.7" r="3.86" fill="url(#ys)"/>
<circle cx="101.5" cy="260.2" r="3.86" fill="url(#ys)"/>
<circle cx="108.6" cy="260.6" r="3.86" fill="url(#ys)"/>
<circle cx="115.7" cy="261.0" r="3.86" fill="url(#ys)"/>
<circle cx="122.9" cy="261.6" r="3.86" fill="url(#ys)"/>
<circle cx="130.0" cy="262.5" r="3.86" fill="url(#ys)"/>
<circle cx="137.1" cy="263.4" r="3.86" fill="url(#ys)"/>
<circle cx="144.3" cy="264.2" r="3.86" fill="url(#ys)"/>
<circle cx="151.4" cy="265.1" r="3.86" fill="url(#ys)"/>
<circle cx="158.6" cy="266.0" r="3.86" fill="url(#ys)"/>
<circle cx="165.7" cy="266.9" r="3.86" fill="url(#ys)"/>
<circle cx="172.8" cy="267.8" r="3.86" fill="url(#ys)"/>
<circle cx="180.0" cy="268.6" r="3.86" fill="url(#ys)"/>
<circle cx="12.5" cy="262.2" r="4.5" fill="url(#ysd)"/>
<circle cx="20.9" cy="262.9" r="4.5" fill="url(#ysd)"/>
<circle cx="29.3" cy="263.5" r="4.5" fill="url(#ysd)"/>
<circle cx="37.7" cy="264.2" r="4.5" fill="url(#ysd)"/>
<circle cx="46.1" cy="264.9" r="4.5" fill="url(#ysd)"/>
<circle cx="54.5" cy="265.6" r="4.5" fill="url(#ysd)"/>
<circle cx="62.9" cy="266.2" r="4.5" fill="url(#ysd)"/>
<circle cx="12.5" cy="270.8" r="4.5" fill="url(#ysd)"/>
<circle cx="20.9" cy="271.5" r="4.5" fill="url(#ysd)"/>
<circle cx="29.3" cy="272.1" r="4.5" fill="url(#ysd)"/>
<circle cx="37.7" cy="272.8" r="4.5" fill="url(#ysd)"/>
<circle cx="46.1" cy="273.5" r="4.5" fill="url(#ysd)"/>
<circle cx="54.5" cy="274.2" r="4.5" fill="url(#ysd)"/>
<circle cx="62.9" cy="274.8" r="4.5" fill="url(#ysd)"/>
<circle cx="12.5" cy="279.4" r="4.5" fill="url(#ysd)"/>
<circle cx="20.9" cy="280.1" r="4.5" fill="url(#ysd)"/>
<circle cx="29.3" cy="280.7" r="4.5" fill="url(#ysd)"/>
<circle cx="37.7" cy="281.4" r="4.5" fill="url(#ysd)"/>
<circle cx="46.1" cy="282.1" r="4.5" fill="url(#ysd)"/>
<circle cx="54.5" cy="282.8" r="4.5" fill="url(#ysd)"/>
<circle cx="62.9" cy="283.4" r="4.5" fill="url(#ysd)"/>
<circle cx="12.5" cy="288.0" r="4.5" fill="url(#ysd)"/>
<circle cx="20.9" cy="288.7" r="4.5" fill="url(#ysd)"/>
<circle cx="29.3" cy="289.3" r="4.5" fill="url(#ysd)"/>
<circle cx="37.7" cy="290.0" r="4.5" fill="url(#ysd)"/>
<circle cx="46.1" cy="290.7" r="4.5" fill="url(#ysd)"/>
<circle cx="54.5" cy="291.4" r="4.5" fill="url(#ysd)"/>
<circle cx="62.9" cy="292.0" r="4.5" fill="url(#ysd)"/>
<polygon points="62,262 120,266 121,300.5 110,299.5 95,301.5 75,302.5 62,300.5" fill="#9a9214"/>
<ellipse cx="67.8" cy="265.3" rx="4.4" ry="5.0" fill="url(#disc)"/>
<ellipse cx="67.8" cy="274.3" rx="4.4" ry="5.0" fill="url(#disc)"/>
<ellipse cx="67.8" cy="283.6" rx="4.4" ry="5.0" fill="url(#disc)"/>
<ellipse cx="67.8" cy="293.0" rx="4.4" ry="5.0" fill="url(#disc)"/>
<ellipse cx="76.5" cy="265.6" rx="4.4" ry="5.0" fill="url(#disc)"/>
<ellipse cx="76.5" cy="274.6" rx="4.4" ry="5.0" fill="url(#disc)"/>
<ellipse cx="76.5" cy="283.9" rx="4.4" ry="5.0" fill="url(#disc)"/>
<ellipse cx="76.5" cy="293.3" rx="4.4" ry="5.0" fill="url(#disc)"/>
<ellipse cx="85.1" cy="265.9" rx="4.4" ry="5.0" fill="url(#disc)"/>
<ellipse cx="85.1" cy="274.9" rx="4.4" ry="5.0" fill="url(#disc)"/>
<ellipse cx="85.1" cy="284.2" rx="4.4" ry="5.0" fill="url(#disc)"/>
<ellipse cx="85.1" cy="293.6" rx="4.4" ry="5.0" fill="url(#disc)"/>
<ellipse cx="93.8" cy="266.1" rx="4.4" ry="5.0" fill="url(#disc)"/>
<ellipse cx="93.8" cy="275.1" rx="4.4" ry="5.0" fill="url(#disc)"/>
<ellipse cx="93.8" cy="284.4" rx="4.4" ry="5.0" fill="url(#disc)"/>
<ellipse cx="93.8" cy="293.8" rx="4.4" ry="5.0" fill="url(#disc)"/>
<ellipse cx="102.5" cy="266.4" rx="4.4" ry="5.0" fill="url(#disc)"/>
<ellipse cx="102.5" cy="275.4" rx="4.4" ry="5.0" fill="url(#disc)"/>
<ellipse cx="102.5" cy="284.7" rx="4.4" ry="5.0" fill="url(#disc)"/>
<ellipse cx="102.5" cy="294.1" rx="4.4" ry="5.0" fill="url(#disc)"/>
<ellipse cx="111.2" cy="266.6" rx="4.4" ry="5.0" fill="url(#disc)"/>
<ellipse cx="111.2" cy="275.6" rx="4.4" ry="5.0" fill="url(#disc)"/>
<ellipse cx="111.2" cy="284.9" rx="4.4" ry="5.0" fill="url(#disc)"/>
<ellipse cx="111.2" cy="294.3" rx="4.4" ry="5.0" fill="url(#disc)"/>
<ellipse cx="117.5" cy="266.8" rx="4.4" ry="5.0" fill="url(#disc)"/>
<ellipse cx="117.5" cy="275.8" rx="4.4" ry="5.0" fill="url(#disc)"/>
<ellipse cx="117.5" cy="285.1" rx="4.4" ry="5.0" fill="url(#disc)"/>
<ellipse cx="117.5" cy="294.5" rx="4.4" ry="5.0" fill="url(#disc)"/>
<circle cx="126.5" cy="271.0" r="6.1" fill="url(#ysd2)"/>
<circle cx="138.1" cy="272.7" r="6.1" fill="url(#ysd2)"/>
<circle cx="149.7" cy="274.5" r="6.1" fill="url(#ysd2)"/>
<circle cx="161.3" cy="276.2" r="6.1" fill="url(#ysd2)"/>
<circle cx="172.9" cy="277.9" r="6.1" fill="url(#ysd2)"/>
<circle cx="184.5" cy="279.7" r="6.1" fill="url(#ysd2)"/>
<circle cx="126.5" cy="284.0" r="6.1" fill="url(#ysd2)"/>
<circle cx="138.1" cy="285.7" r="6.1" fill="url(#ysd2)"/>
<circle cx="149.7" cy="287.5" r="6.1" fill="url(#ysd2)"/>
<circle cx="161.3" cy="289.2" r="6.1" fill="url(#ysd2)"/>
<circle cx="172.9" cy="290.9" r="6.1" fill="url(#ysd2)"/>
<circle cx="184.5" cy="292.7" r="6.1" fill="url(#ysd2)"/>
<circle cx="126.5" cy="297.0" r="6.1" fill="url(#ysd2)"/>
<circle cx="138.1" cy="298.7" r="6.1" fill="url(#ysd2)"/>
<circle cx="149.7" cy="300.5" r="6.1" fill="url(#ysd2)"/>
<circle cx="161.3" cy="302.2" r="6.1" fill="url(#ysd2)"/>
<circle cx="172.9" cy="303.9" r="6.1" fill="url(#ysd2)"/>
<circle cx="184.5" cy="305.7" r="6.1" fill="url(#ysd2)"/>
<circle cx="126.5" cy="310.0" r="6.1" fill="url(#ysd2)"/>
<circle cx="138.1" cy="311.7" r="6.1" fill="url(#ysd2)"/>
<circle cx="149.7" cy="313.5" r="6.1" fill="url(#ysd2)"/>
<circle cx="161.3" cy="315.2" r="6.1" fill="url(#ysd2)"/>
<circle cx="172.9" cy="316.9" r="6.1" fill="url(#ysd2)"/>
<circle cx="184.5" cy="318.7" r="6.1" fill="url(#ysd2)"/>
<path d="M26.4,272.1 h6.6 M29.7,268.70000000000005 v6.8" stroke="#1a2cc8" stroke-width="1.9" fill="none"/>
<path d="M44.1,274.4 h6.6 M47.4,271.0 v6.8" stroke="#1a2cc8" stroke-width="1.9" fill="none"/>
<path d="M10.5,269.3 h6.6 M13.8,265.90000000000003 v6.8" stroke="#1a2cc8" stroke-width="1.9" fill="none"/>
<path d="M27.1,283.2 h6" stroke="#f03018" stroke-width="1.6" fill="none"/>
<path d="M45.5,286.9 h6" stroke="#f03018" stroke-width="1.6" fill="none"/>
<path d="M11.5,281.0 h6" stroke="#f03018" stroke-width="1.6" fill="none"/>
<text x="0" y="0" font-size="30" font-family="Liberation Sans, sans-serif" font-weight="bold" fill="#111" transform="translate(125.6,308.6) skewX(-3) scale(0.93,1.06)">P</text>
<path d="M151.3,315.8 L151.6,299" stroke="#111" stroke-width="3.4" fill="none"/>
<path d="M146.3,301.6 L151.3,288.4 L156.4,301.6 Z" fill="#111"/>
<path d="M163.6,294.6 h12.6 M169.9,288.4 v12.4" stroke="#1a2cc8" stroke-width="2.9" fill="none"/>
<path d="M162.0,309.2 L171.2,311.0" stroke="#f03018" stroke-width="2.3" fill="none"/>
<polygon points="56.4,241.1 50.6,245.9 43.3,233.5 45.7,231.5" fill="url(#tru)" opacity="0.9"/>
<polygon points="78.6,249.0 71.0,252.2 67.3,237.2 70.3,236.0" fill="url(#tru)" opacity="0.9"/>
<polygon points="93.0,241.2 85.0,241.2 87.4,223.2 90.6,223.2" fill="url(#tru)" opacity="0.9"/>
<polygon points="108.1,258.9 100.5,256.5 107.8,241.2 110.8,242.2" fill="url(#tru)" opacity="0.9"/>
<polygon points="131.7,245.2 126.5,237.2 148.2,226.9 150.0,229.5" fill="url(#tru)" opacity="0.9"/>
<polygon points="95.0,282.5 87.5,282.5 89.7,263.5 92.9,263.5" fill="url(#tru)" opacity="0.9"/>
<polygon points="71.5,306.8 79.5,306.8 71.5,325.8 69.5,325.8" fill="url(#trd)"/>
<polygon points="87.0,300.8 95.0,300.8 92.0,319.8 90.0,319.8" fill="url(#trd)"/>
<polygon points="106.0,320.2 114.8,320.2 119.4,339.2 117.4,339.2" fill="url(#trd)"/>
<polygon points="94.5,336.3 102.5,336.3 105.5,355.3 103.5,355.3" fill="url(#trd)"/>
<polygon points="80.8,333.5 88.8,333.5 85.8,352.5 83.8,352.5" fill="url(#trd)"/>
<polygon points="66.7,340.2 74.7,340.2 65.7,359.2 63.7,359.2" fill="url(#trd)"/>
<circle cx="53.5" cy="243.5" r="5" fill="url(#bs)"/>
<circle cx="74.8" cy="250.6" r="5.5" fill="url(#bs)"/>
<circle cx="89" cy="241.2" r="5.3" fill="url(#bs)"/>
<circle cx="104.3" cy="257.7" r="5.3" fill="url(#bs)"/>
<circle cx="129.1" cy="241.2" r="6.3" fill="url(#bs)"/>
<circle cx="91.3" cy="282.5" r="5" fill="url(#bs)"/>
<circle cx="75.5" cy="306.8" r="5" fill="url(#rs)"/>
<circle cx="91" cy="300.8" r="5" fill="url(#rs)"/>
<circle cx="110.4" cy="320.2" r="5.5" fill="url(#rs)"/>
<circle cx="98.5" cy="336.3" r="5" fill="url(#rs)"/>
<circle cx="84.8" cy="333.5" r="5" fill="url(#rs)"/>
<circle cx="70.7" cy="340.2" r="5" fill="url(#rs)"/>
</g>
<rect x="14.1" y="204.8" width="164.7" height="163.7" fill="none" stroke="#7a7a7a" stroke-width="2.4"/>
<text x="0.20" y="11.70" font-size="15" text-anchor="start" font-family="Liberation Sans, sans-serif" font-weight="bold" stroke="#000" stroke-width="0.22" >a</text>
<text x="196.50" y="11.50" font-size="15" text-anchor="start" font-family="Liberation Sans, sans-serif" font-weight="bold" stroke="#000" stroke-width="0.22" >b</text>
<text x="494.50" y="11.70" font-size="15" text-anchor="start" font-family="Liberation Sans, sans-serif" font-weight="bold" stroke="#000" stroke-width="0.22" >c</text>
<text x="494.40" y="206.70" font-size="15" text-anchor="start" font-family="Liberation Sans, sans-serif" font-weight="bold" stroke="#000" stroke-width="0.22" >d</text>
<rect x="238.1" y="15.9" width="246.1" height="330.90000000000003" fill="none" stroke="#000" stroke-width="1.5"/>
<line x1="238.10" y1="331.80" x2="242.30" y2="331.80" stroke="#000" stroke-width="1.2" />
<text x="233.20" y="335.80" font-size="12.5" text-anchor="end" font-family="Liberation Sans, sans-serif" font-weight="bold" stroke="#000" stroke-width="0.22" >-40</text>
<line x1="238.10" y1="271.60" x2="242.30" y2="271.60" stroke="#000" stroke-width="1.2" />
<text x="233.20" y="275.60" font-size="12.5" text-anchor="end" font-family="Liberation Sans, sans-serif" font-weight="bold" stroke="#000" stroke-width="0.22" >0</text>
<line x1="238.10" y1="211.40" x2="242.30" y2="211.40" stroke="#000" stroke-width="1.2" />
<text x="233.20" y="215.40" font-size="12.5" text-anchor="end" font-family="Liberation Sans, sans-serif" font-weight="bold" stroke="#000" stroke-width="0.22" >40</text>
<line x1="238.10" y1="151.20" x2="242.30" y2="151.20" stroke="#000" stroke-width="1.2" />
<text x="233.20" y="155.20" font-size="12.5" text-anchor="end" font-family="Liberation Sans, sans-serif" font-weight="bold" stroke="#000" stroke-width="0.22" >80</text>
<line x1="238.10" y1="91.00" x2="242.30" y2="91.00" stroke="#000" stroke-width="1.2" />
<text x="233.20" y="95.00" font-size="12.5" text-anchor="end" font-family="Liberation Sans, sans-serif" font-weight="bold" stroke="#000" stroke-width="0.22" >120</text>
<line x1="238.10" y1="30.80" x2="242.30" y2="30.80" stroke="#000" stroke-width="1.2" />
<text x="233.20" y="34.80" font-size="12.5" text-anchor="end" font-family="Liberation Sans, sans-serif" font-weight="bold" stroke="#000" stroke-width="0.22" >160</text>
<line x1="238.10" y1="301.70" x2="240.40" y2="301.70" stroke="#000" stroke-width="1.0" />
<line x1="238.10" y1="241.50" x2="240.40" y2="241.50" stroke="#000" stroke-width="1.0" />
<line x1="238.10" y1="181.30" x2="240.40" y2="181.30" stroke="#000" stroke-width="1.0" />
<line x1="238.10" y1="121.10" x2="240.40" y2="121.10" stroke="#000" stroke-width="1.0" />
<line x1="238.10" y1="60.90" x2="240.40" y2="60.90" stroke="#000" stroke-width="1.0" />
<line x1="258.50" y1="346.80" x2="258.50" y2="342.60" stroke="#000" stroke-width="1.2" />
<text x="258.50" y="361.70" font-size="12.5" text-anchor="middle" font-family="Liberation Sans, sans-serif" font-weight="bold" stroke="#000" stroke-width="0.22" >-1.0</text>
<line x1="309.82" y1="346.80" x2="309.82" y2="342.60" stroke="#000" stroke-width="1.2" />
<text x="309.82" y="361.70" font-size="12.5" text-anchor="middle" font-family="Liberation Sans, sans-serif" font-weight="bold" stroke="#000" stroke-width="0.22" >-0.5</text>
<line x1="361.15" y1="346.80" x2="361.15" y2="342.60" stroke="#000" stroke-width="1.2" />
<text x="361.15" y="361.70" font-size="12.5" text-anchor="middle" font-family="Liberation Sans, sans-serif" font-weight="bold" stroke="#000" stroke-width="0.22" >0.0</text>
<line x1="412.47" y1="346.80" x2="412.47" y2="342.60" stroke="#000" stroke-width="1.2" />
<text x="412.47" y="361.70" font-size="12.5" text-anchor="middle" font-family="Liberation Sans, sans-serif" font-weight="bold" stroke="#000" stroke-width="0.22" >0.5</text>
<line x1="463.80" y1="346.80" x2="463.80" y2="342.60" stroke="#000" stroke-width="1.2" />
<text x="463.80" y="361.70" font-size="12.5" text-anchor="middle" font-family="Liberation Sans, sans-serif" font-weight="bold" stroke="#000" stroke-width="0.22" >1.0</text>
<line x1="284.16" y1="346.80" x2="284.16" y2="344.50" stroke="#000" stroke-width="1.0" />
<line x1="335.49" y1="346.80" x2="335.49" y2="344.50" stroke="#000" stroke-width="1.0" />
<line x1="386.81" y1="346.80" x2="386.81" y2="344.50" stroke="#000" stroke-width="1.0" />
<line x1="438.14" y1="346.80" x2="438.14" y2="344.50" stroke="#000" stroke-width="1.0" />
<text x="361.30" y="376.50" font-size="14" text-anchor="middle" font-family="Liberation Sans, sans-serif" font-weight="bold" stroke="#000" stroke-width="0.22" >Voltage (V)</text>
<text transform="translate(211.8,175.3) rotate(-90)" font-size="14.2" text-anchor="middle" font-family="Liberation Sans, sans-serif" font-weight="bold" stroke="#000" stroke-width="0.22">Current (nA)</text>
<circle cx="258.50" cy="278.82" r="3.1" fill="#ff1a1a" />
<circle cx="263.63" cy="278.46" r="3.1" fill="#ff1a1a" />
<circle cx="268.76" cy="278.10" r="3.1" fill="#ff1a1a" />
<circle cx="273.90" cy="277.74" r="3.1" fill="#ff1a1a" />
<circle cx="279.03" cy="277.38" r="3.1" fill="#ff1a1a" />
<circle cx="284.16" cy="277.02" r="3.1" fill="#ff1a1a" />
<circle cx="289.29" cy="276.66" r="3.1" fill="#ff1a1a" />
<circle cx="294.43" cy="276.30" r="3.1" fill="#ff1a1a" />
<circle cx="299.56" cy="275.93" r="3.1" fill="#ff1a1a" />
<circle cx="304.69" cy="275.57" r="3.1" fill="#ff1a1a" />
<circle cx="309.82" cy="275.21" r="3.1" fill="#ff1a1a" />
<circle cx="314.96" cy="274.85" r="3.1" fill="#ff1a1a" />
<circle cx="320.09" cy="274.49" r="3.1" fill="#ff1a1a" />
<circle cx="325.22" cy="274.13" r="3.1" fill="#ff1a1a" />
<circle cx="330.35" cy="273.77" r="3.1" fill="#ff1a1a" />
<circle cx="335.49" cy="273.41" r="3.1" fill="#ff1a1a" />
<circle cx="340.62" cy="273.04" r="3.1" fill="#ff1a1a" />
<circle cx="345.75" cy="272.68" r="3.1" fill="#ff1a1a" />
<circle cx="350.88" cy="272.32" r="3.1" fill="#ff1a1a" />
<circle cx="356.02" cy="271.96" r="3.1" fill="#ff1a1a" />
<circle cx="361.15" cy="271.60" r="3.1" fill="#ff1a1a" />
<circle cx="366.28" cy="270.12" r="3.1" fill="#ff1a1a" />
<circle cx="371.41" cy="268.62" r="3.1" fill="#ff1a1a" />
<circle cx="376.55" cy="267.11" r="3.1" fill="#ff1a1a" />
<circle cx="381.68" cy="265.58" r="3.1" fill="#ff1a1a" />
<circle cx="386.81" cy="264.04" r="3.1" fill="#ff1a1a" />
<circle cx="391.94" cy="262.48" r="3.1" fill="#ff1a1a" />
<circle cx="397.08" cy="260.91" r="3.1" fill="#ff1a1a" />
<circle cx="402.21" cy="259.32" r="3.1" fill="#ff1a1a" />
<circle cx="407.34" cy="257.72" r="3.1" fill="#ff1a1a" />
<circle cx="412.47" cy="256.10" r="3.1" fill="#ff1a1a" />
<circle cx="417.61" cy="254.47" r="3.1" fill="#ff1a1a" />
<circle cx="422.74" cy="252.82" r="3.1" fill="#ff1a1a" />
<circle cx="427.87" cy="251.15" r="3.1" fill="#ff1a1a" />
<circle cx="433.00" cy="249.48" r="3.1" fill="#ff1a1a" />
<circle cx="438.14" cy="247.78" r="3.1" fill="#ff1a1a" />
<circle cx="443.27" cy="246.08" r="3.1" fill="#ff1a1a" />
<circle cx="448.40" cy="244.35" r="3.1" fill="#ff1a1a" />
<circle cx="453.53" cy="242.61" r="3.1" fill="#ff1a1a" />
<circle cx="458.67" cy="240.86" r="3.1" fill="#ff1a1a" />
<circle cx="463.80" cy="239.09" r="3.1" fill="#ff1a1a" />
<circle cx="258.50" cy="288.00" r="3.1" fill="#66cc00" />
<circle cx="263.63" cy="287.34" r="3.1" fill="#66cc00" />
<circle cx="268.76" cy="286.66" r="3.1" fill="#66cc00" />
<circle cx="273.90" cy="285.97" r="3.1" fill="#66cc00" />
<circle cx="279.03" cy="285.25" r="3.1" fill="#66cc00" />
<circle cx="284.16" cy="284.52" r="3.1" fill="#66cc00" />
<circle cx="289.29" cy="283.78" r="3.1" fill="#66cc00" />
<circle cx="294.43" cy="283.02" r="3.1" fill="#66cc00" />
<circle cx="299.56" cy="282.24" r="3.1" fill="#66cc00" />
<circle cx="304.69" cy="281.44" r="3.1" fill="#66cc00" />
<circle cx="309.82" cy="280.63" r="3.1" fill="#66cc00" />
<circle cx="314.96" cy="279.80" r="3.1" fill="#66cc00" />
<circle cx="320.09" cy="278.96" r="3.1" fill="#66cc00" />
<circle cx="325.22" cy="278.09" r="3.1" fill="#66cc00" />
<circle cx="330.35" cy="277.22" r="3.1" fill="#66cc00" />
<circle cx="335.49" cy="276.32" r="3.1" fill="#66cc00" />
<circle cx="340.62" cy="275.41" r="3.1" fill="#66cc00" />
<circle cx="345.75" cy="274.48" r="3.1" fill="#66cc00" />
<circle cx="350.88" cy="273.54" r="3.1" fill="#66cc00" />
<circle cx="356.02" cy="272.58" r="3.1" fill="#66cc00" />
<circle cx="361.15" cy="271.60" r="3.1" fill="#66cc00" />
<circle cx="366.28" cy="269.16" r="3.1" fill="#66cc00" />
<circle cx="371.41" cy="266.63" r="3.1" fill="#66cc00" />
<circle cx="376.55" cy="264.00" r="3.1" fill="#66cc00" />
<circle cx="381.68" cy="261.28" r="3.1" fill="#66cc00" />
<circle cx="386.81" cy="258.47" r="3.1" fill="#66cc00" />
<circle cx="391.94" cy="255.56" r="3.1" fill="#66cc00" />
<circle cx="397.08" cy="252.56" r="3.1" fill="#66cc00" />
<circle cx="402.21" cy="249.47" r="3.1" fill="#66cc00" />
<circle cx="407.34" cy="246.28" r="3.1" fill="#66cc00" />
<circle cx="412.47" cy="243.01" r="3.1" fill="#66cc00" />
<circle cx="417.61" cy="239.63" r="3.1" fill="#66cc00" />
<circle cx="422.74" cy="236.17" r="3.1" fill="#66cc00" />
<circle cx="427.87" cy="232.61" r="3.1" fill="#66cc00" />
<circle cx="433.00" cy="228.95" r="3.1" fill="#66cc00" />
<circle cx="438.14" cy="225.21" r="3.1" fill="#66cc00" />
<circle cx="443.27" cy="221.37" r="3.1" fill="#66cc00" />
<circle cx="448.40" cy="217.44" r="3.1" fill="#66cc00" />
<circle cx="453.53" cy="213.41" r="3.1" fill="#66cc00" />
<circle cx="458.67" cy="209.29" r="3.1" fill="#66cc00" />
<circle cx="463.80" cy="205.08" r="3.1" fill="#66cc00" />
<circle cx="258.50" cy="325.11" r="3.1" fill="#1212b8" />
<circle cx="263.63" cy="322.80" r="3.1" fill="#1212b8" />
<circle cx="268.76" cy="320.49" r="3.1" fill="#1212b8" />
<circle cx="273.90" cy="318.22" r="3.1" fill="#1212b8" />
<circle cx="279.03" cy="316.00" r="3.1" fill="#1212b8" />
<circle cx="284.16" cy="313.85" r="3.1" fill="#1212b8" />
<circle cx="289.29" cy="311.76" r="3.1" fill="#1212b8" />
<circle cx="294.43" cy="309.73" r="3.1" fill="#1212b8" />
<circle cx="299.56" cy="307.74" r="3.1" fill="#1212b8" />
<circle cx="304.69" cy="305.77" r="3.1" fill="#1212b8" />
<circle cx="309.82" cy="303.79" r="3.1" fill="#1212b8" />
<circle cx="314.96" cy="301.75" r="3.1" fill="#1212b8" />
<circle cx="320.09" cy="299.61" r="3.1" fill="#1212b8" />
<circle cx="325.22" cy="297.30" r="3.1" fill="#1212b8" />
<circle cx="330.35" cy="294.76" r="3.1" fill="#1212b8" />
<circle cx="335.49" cy="291.92" r="3.1" fill="#1212b8" />
<circle cx="340.62" cy="288.69" r="3.1" fill="#1212b8" />
<circle cx="345.75" cy="284.97" r="3.1" fill="#1212b8" />
<circle cx="350.88" cy="280.67" r="3.1" fill="#1212b8" />
<circle cx="356.02" cy="275.68" r="3.1" fill="#1212b8" />
<circle cx="361.15" cy="269.37" r="3.1" fill="#1212b8" />
<circle cx="366.28" cy="263.18" r="3.1" fill="#1212b8" />
<circle cx="371.41" cy="256.30" r="3.1" fill="#1212b8" />
<circle cx="376.55" cy="248.74" r="3.1" fill="#1212b8" />
<circle cx="381.68" cy="240.53" r="3.1" fill="#1212b8" />
<circle cx="386.81" cy="231.69" r="3.1" fill="#1212b8" />
<circle cx="391.94" cy="222.24" r="3.1" fill="#1212b8" />
<circle cx="397.08" cy="212.20" r="3.1" fill="#1212b8" />
<circle cx="402.21" cy="201.59" r="3.1" fill="#1212b8" />
<circle cx="407.34" cy="190.44" r="3.1" fill="#1212b8" />
<circle cx="412.47" cy="178.76" r="3.1" fill="#1212b8" />
<circle cx="417.61" cy="166.57" r="3.1" fill="#1212b8" />
<circle cx="422.74" cy="153.89" r="3.1" fill="#1212b8" />
<circle cx="427.87" cy="140.76" r="3.1" fill="#1212b8" />
<circle cx="433.00" cy="127.17" r="3.1" fill="#1212b8" />
<circle cx="438.14" cy="113.17" r="3.1" fill="#1212b8" />
<circle cx="443.27" cy="98.76" r="3.1" fill="#1212b8" />
<circle cx="448.40" cy="83.97" r="3.1" fill="#1212b8" />
<circle cx="453.53" cy="68.82" r="3.1" fill="#1212b8" />
<circle cx="458.67" cy="53.34" r="3.1" fill="#1212b8" />
<circle cx="463.80" cy="37.53" r="3.1" fill="#1212b8" />
<text x="417.60" y="281.70" font-size="12.8" text-anchor="start" font-family="Liberation Sans, sans-serif" font-weight="bold" stroke="#000" stroke-width="0.22" >Pore size</text>
<circle cx="423.50" cy="295.30" r="3.1" fill="#1212b8" />
<text x="434.00" y="298.20" font-size="12.8" text-anchor="start" font-family="Liberation Sans, sans-serif" font-weight="bold" stroke="#000" stroke-width="0.22" >9 nm</text>
<circle cx="423.50" cy="311.40" r="3.1" fill="#66cc00" />
<text x="434.00" y="314.30" font-size="12.8" text-anchor="start" font-family="Liberation Sans, sans-serif" font-weight="bold" stroke="#000" stroke-width="0.22" >5 nm</text>
<circle cx="423.50" cy="327.50" r="3.1" fill="#ff1a1a" />
<text x="434.00" y="330.40" font-size="12.8" text-anchor="start" font-family="Liberation Sans, sans-serif" font-weight="bold" stroke="#000" stroke-width="0.22" >3 nm</text>
<rect x="280.1" y="30.9" width="125.89999999999998" height="125.9" fill="#fff" stroke="#000" stroke-width="1.5"/>
<line x1="280.10" y1="156.73" x2="283.10" y2="156.73" stroke="#000" stroke-width="1.1" />
<text x="276.60" y="160.23" font-size="11.5" text-anchor="end" font-family="Liberation Sans, sans-serif" font-weight="bold" stroke="#000" stroke-width="0.22" >-8</text>
<line x1="280.10" y1="125.29" x2="283.10" y2="125.29" stroke="#000" stroke-width="1.1" />
<text x="276.60" y="128.79" font-size="11.5" text-anchor="end" font-family="Liberation Sans, sans-serif" font-weight="bold" stroke="#000" stroke-width="0.22" >-4</text>
<line x1="280.10" y1="93.85" x2="283.10" y2="93.85" stroke="#000" stroke-width="1.1" />
<text x="276.60" y="97.35" font-size="11.5" text-anchor="end" font-family="Liberation Sans, sans-serif" font-weight="bold" stroke="#000" stroke-width="0.22" >0</text>
<line x1="280.10" y1="62.41" x2="283.10" y2="62.41" stroke="#000" stroke-width="1.1" />
<text x="276.60" y="65.91" font-size="11.5" text-anchor="end" font-family="Liberation Sans, sans-serif" font-weight="bold" stroke="#000" stroke-width="0.22" >4</text>
<line x1="280.10" y1="30.97" x2="283.10" y2="30.97" stroke="#000" stroke-width="1.1" />
<text x="276.60" y="34.47" font-size="11.5" text-anchor="end" font-family="Liberation Sans, sans-serif" font-weight="bold" stroke="#000" stroke-width="0.22" >8</text>
<line x1="280.10" y1="141.01" x2="281.90" y2="141.01" stroke="#000" stroke-width="1.0" />
<line x1="280.10" y1="109.57" x2="281.90" y2="109.57" stroke="#000" stroke-width="1.0" />
<line x1="280.10" y1="78.13" x2="281.90" y2="78.13" stroke="#000" stroke-width="1.0" />
<line x1="280.10" y1="46.69" x2="281.90" y2="46.69" stroke="#000" stroke-width="1.0" />
<line x1="290.30" y1="156.80" x2="290.30" y2="153.80" stroke="#000" stroke-width="1.1" />
<text x="289.50" y="169.80" font-size="11.3" text-anchor="middle" font-family="Liberation Sans, sans-serif" font-weight="bold" stroke="#000" stroke-width="0.22" >-1</text>
<line x1="343.05" y1="156.80" x2="343.05" y2="153.80" stroke="#000" stroke-width="1.1" />
<text x="343.05" y="169.80" font-size="11.3" text-anchor="middle" font-family="Liberation Sans, sans-serif" font-weight="bold" stroke="#000" stroke-width="0.22" >0</text>
<line x1="395.80" y1="156.80" x2="395.80" y2="153.80" stroke="#000" stroke-width="1.1" />
<text x="395.80" y="169.80" font-size="11.3" text-anchor="middle" font-family="Liberation Sans, sans-serif" font-weight="bold" stroke="#000" stroke-width="0.22" >1</text>
<line x1="316.68" y1="156.80" x2="316.68" y2="155.00" stroke="#000" stroke-width="1.0" />
<line x1="369.43" y1="156.80" x2="369.43" y2="155.00" stroke="#000" stroke-width="1.0" />
<text x="343.00" y="180.50" font-size="13.4" text-anchor="middle" font-family="Liberation Sans, sans-serif" font-weight="bold" stroke="#000" stroke-width="0.22" >Voltage (V)</text>
<text transform="translate(261.5,93.4) rotate(-90)" font-size="13.4" text-anchor="middle" font-family="Liberation Sans, sans-serif" font-weight="bold" stroke="#000" stroke-width="0.22">Current (nA)</text>
<text x="289.00" y="47.80" font-size="12.8" text-anchor="start" font-family="Liberation Sans, sans-serif" font-weight="bold" stroke="#000" stroke-width="0.22" >SiN</text>
<text x="311.40" y="52.60" font-size="8" text-anchor="start" font-family="Liberation Sans, sans-serif" font-weight="bold" stroke="#000" stroke-width="0.22" >x</text>
<circle cx="290.30" cy="144.00" r="2.55" fill="#000" />
<circle cx="295.57" cy="139.17" r="2.55" fill="#000" />
<circle cx="300.85" cy="134.34" r="2.55" fill="#000" />
<circle cx="306.12" cy="129.51" r="2.55" fill="#000" />
<circle cx="311.40" cy="124.68" r="2.55" fill="#000" />
<circle cx="316.68" cy="119.85" r="2.55" fill="#000" />
<circle cx="321.95" cy="115.02" r="2.55" fill="#000" />
<circle cx="327.23" cy="110.19" r="2.55" fill="#000" />
<circle cx="332.50" cy="105.36" r="2.55" fill="#000" />
<circle cx="337.78" cy="100.53" r="2.55" fill="#000" />
<circle cx="343.05" cy="95.70" r="2.55" fill="#000" />
<circle cx="348.32" cy="90.87" r="2.55" fill="#000" />
<circle cx="353.60" cy="86.04" r="2.55" fill="#000" />
<circle cx="358.88" cy="81.21" r="2.55" fill="#000" />
<circle cx="364.15" cy="76.38" r="2.55" fill="#000" />
<circle cx="369.43" cy="71.55" r="2.55" fill="#000" />
<circle cx="374.70" cy="66.72" r="2.55" fill="#000" />
<circle cx="379.98" cy="61.89" r="2.55" fill="#000" />
<circle cx="385.25" cy="57.06" r="2.55" fill="#000" />
<circle cx="390.53" cy="52.23" r="2.55" fill="#000" />
<circle cx="395.80" cy="47.40" r="2.55" fill="#000" />
<rect x="545.9" y="15.9" width="130.89999999999998" height="137.5" fill="none" stroke="#000" stroke-width="1.5"/>
<line x1="545.90" y1="153.40" x2="549.40" y2="153.40" stroke="#000" stroke-width="1.1" />
<line x1="545.90" y1="143.05" x2="547.70" y2="143.05" stroke="#000" stroke-width="0.9" />
<line x1="545.90" y1="137.00" x2="547.70" y2="137.00" stroke="#000" stroke-width="0.9" />
<line x1="545.90" y1="132.70" x2="547.70" y2="132.70" stroke="#000" stroke-width="0.9" />
<line x1="545.90" y1="129.37" x2="547.70" y2="129.37" stroke="#000" stroke-width="0.9" />
<line x1="545.90" y1="126.65" x2="547.70" y2="126.65" stroke="#000" stroke-width="0.9" />
<line x1="545.90" y1="124.35" x2="547.70" y2="124.35" stroke="#000" stroke-width="0.9" />
<line x1="545.90" y1="122.36" x2="547.70" y2="122.36" stroke="#000" stroke-width="0.9" />
<line x1="545.90" y1="120.60" x2="547.70" y2="120.60" stroke="#000" stroke-width="0.9" />
<line x1="545.90" y1="119.03" x2="549.40" y2="119.03" stroke="#000" stroke-width="1.1" />
<line x1="545.90" y1="108.68" x2="547.70" y2="108.68" stroke="#000" stroke-width="0.9" />
<line x1="545.90" y1="102.62" x2="547.70" y2="102.62" stroke="#000" stroke-width="0.9" />
<line x1="545.90" y1="98.33" x2="547.70" y2="98.33" stroke="#000" stroke-width="0.9" />
<line x1="545.90" y1="95.00" x2="547.70" y2="95.00" stroke="#000" stroke-width="0.9" />
<line x1="545.90" y1="92.28" x2="547.70" y2="92.28" stroke="#000" stroke-width="0.9" />
<line x1="545.90" y1="89.97" x2="547.70" y2="89.97" stroke="#000" stroke-width="0.9" />
<line x1="545.90" y1="87.98" x2="547.70" y2="87.98" stroke="#000" stroke-width="0.9" />
<line x1="545.90" y1="86.22" x2="547.70" y2="86.22" stroke="#000" stroke-width="0.9" />
<line x1="545.90" y1="84.65" x2="549.40" y2="84.65" stroke="#000" stroke-width="1.1" />
<line x1="545.90" y1="74.30" x2="547.70" y2="74.30" stroke="#000" stroke-width="0.9" />
<line x1="545.90" y1="68.25" x2="547.70" y2="68.25" stroke="#000" stroke-width="0.9" />
<line x1="545.90" y1="63.95" x2="547.70" y2="63.95" stroke="#000" stroke-width="0.9" />
<line x1="545.90" y1="60.62" x2="547.70" y2="60.62" stroke="#000" stroke-width="0.9" />
<line x1="545.90" y1="57.90" x2="547.70" y2="57.90" stroke="#000" stroke-width="0.9" />
<line x1="545.90" y1="55.60" x2="547.70" y2="55.60" stroke="#000" stroke-width="0.9" />
<line x1="545.90" y1="53.61" x2="547.70" y2="53.61" stroke="#000" stroke-width="0.9" />
<line x1="545.90" y1="51.85" x2="547.70" y2="51.85" stroke="#000" stroke-width="0.9" />
<line x1="545.90" y1="50.28" x2="549.40" y2="50.28" stroke="#000" stroke-width="1.1" />
<line x1="545.90" y1="39.93" x2="547.70" y2="39.93" stroke="#000" stroke-width="0.9" />
<line x1="545.90" y1="33.87" x2="547.70" y2="33.87" stroke="#000" stroke-width="0.9" />
<line x1="545.90" y1="29.58" x2="547.70" y2="29.58" stroke="#000" stroke-width="0.9" />
<line x1="545.90" y1="26.25" x2="547.70" y2="26.25" stroke="#000" stroke-width="0.9" />
<line x1="545.90" y1="23.53" x2="547.70" y2="23.53" stroke="#000" stroke-width="0.9" />
<line x1="545.90" y1="21.22" x2="547.70" y2="21.22" stroke="#000" stroke-width="0.9" />
<line x1="545.90" y1="19.23" x2="547.70" y2="19.23" stroke="#000" stroke-width="0.9" />
<line x1="545.90" y1="17.47" x2="547.70" y2="17.47" stroke="#000" stroke-width="0.9" />
<line x1="545.90" y1="15.90" x2="549.40" y2="15.90" stroke="#000" stroke-width="1.1" />
<text x="535.60" y="21.30" font-size="12.5" text-anchor="end" font-family="Liberation Sans, sans-serif" font-weight="bold" stroke="#000" stroke-width="0.22" >10</text>
<text x="536.10" y="14.90" font-size="8.2" text-anchor="start" font-family="Liberation Sans, sans-serif" font-weight="bold" stroke="#000" stroke-width="0.22" >-4</text>
<text x="535.60" y="55.68" font-size="12.5" text-anchor="end" font-family="Liberation Sans, sans-serif" font-weight="bold" stroke="#000" stroke-width="0.22" >10</text>
<text x="536.10" y="49.28" font-size="8.2" text-anchor="start" font-family="Liberation Sans, sans-serif" font-weight="bold" stroke="#000" stroke-width="0.22" >-5</text>
<text x="535.60" y="90.05" font-size="12.5" text-anchor="end" font-family="Liberation Sans, sans-serif" font-weight="bold" stroke="#000" stroke-width="0.22" >10</text>
<text x="536.10" y="83.65" font-size="8.2" text-anchor="start" font-family="Liberation Sans, sans-serif" font-weight="bold" stroke="#000" stroke-width="0.22" >-6</text>
<text x="535.60" y="124.43" font-size="12.5" text-anchor="end" font-family="Liberation Sans, sans-serif" font-weight="bold" stroke="#000" stroke-width="0.22" >10</text>
<text x="536.10" y="118.03" font-size="8.2" text-anchor="start" font-family="Liberation Sans, sans-serif" font-weight="bold" stroke="#000" stroke-width="0.22" >-7</text>
<text x="535.60" y="158.80" font-size="12.5" text-anchor="end" font-family="Liberation Sans, sans-serif" font-weight="bold" stroke="#000" stroke-width="0.22" >10</text>
<text x="536.10" y="152.40" font-size="8.2" text-anchor="start" font-family="Liberation Sans, sans-serif" font-weight="bold" stroke="#000" stroke-width="0.22" >-8</text>
<line x1="545.90" y1="153.40" x2="545.90" y2="149.90" stroke="#000" stroke-width="1.1" />
<line x1="550.82" y1="153.40" x2="550.82" y2="151.60" stroke="#000" stroke-width="0.9" />
<line x1="553.71" y1="153.40" x2="553.71" y2="151.60" stroke="#000" stroke-width="0.9" />
<line x1="555.75" y1="153.40" x2="555.75" y2="151.60" stroke="#000" stroke-width="0.9" />
<line x1="557.34" y1="153.40" x2="557.34" y2="151.60" stroke="#000" stroke-width="0.9" />
<line x1="558.63" y1="153.40" x2="558.63" y2="151.60" stroke="#000" stroke-width="0.9" />
<line x1="559.73" y1="153.40" x2="559.73" y2="151.60" stroke="#000" stroke-width="0.9" />
<line x1="560.67" y1="153.40" x2="560.67" y2="151.60" stroke="#000" stroke-width="0.9" />
<line x1="561.51" y1="153.40" x2="561.51" y2="151.60" stroke="#000" stroke-width="0.9" />
<line x1="562.26" y1="153.40" x2="562.26" y2="149.90" stroke="#000" stroke-width="1.1" />
<line x1="567.18" y1="153.40" x2="567.18" y2="151.60" stroke="#000" stroke-width="0.9" />
<line x1="570.07" y1="153.40" x2="570.07" y2="151.60" stroke="#000" stroke-width="0.9" />
<line x1="572.11" y1="153.40" x2="572.11" y2="151.60" stroke="#000" stroke-width="0.9" />
<line x1="573.70" y1="153.40" x2="573.70" y2="151.60" stroke="#000" stroke-width="0.9" />
<line x1="574.99" y1="153.40" x2="574.99" y2="151.60" stroke="#000" stroke-width="0.9" />
<line x1="576.09" y1="153.40" x2="576.09" y2="151.60" stroke="#000" stroke-width="0.9" />
<line x1="577.03" y1="153.40" x2="577.03" y2="151.60" stroke="#000" stroke-width="0.9" />
<line x1="577.87" y1="153.40" x2="577.87" y2="151.60" stroke="#000" stroke-width="0.9" />
<line x1="578.62" y1="153.40" x2="578.62" y2="149.90" stroke="#000" stroke-width="1.1" />
<line x1="583.54" y1="153.40" x2="583.54" y2="151.60" stroke="#000" stroke-width="0.9" />
<line x1="586.43" y1="153.40" x2="586.43" y2="151.60" stroke="#000" stroke-width="0.9" />
<line x1="588.47" y1="153.40" x2="588.47" y2="151.60" stroke="#000" stroke-width="0.9" />
<line x1="590.06" y1="153.40" x2="590.06" y2="151.60" stroke="#000" stroke-width="0.9" />
<line x1="591.35" y1="153.40" x2="591.35" y2="151.60" stroke="#000" stroke-width="0.9" />
<line x1="592.45" y1="153.40" x2="592.45" y2="151.60" stroke="#000" stroke-width="0.9" />
<line x1="593.39" y1="153.40" x2="593.39" y2="151.60" stroke="#000" stroke-width="0.9" />
<line x1="594.23" y1="153.40" x2="594.23" y2="151.60" stroke="#000" stroke-width="0.9" />
<line x1="594.98" y1="153.40" x2="594.98" y2="149.90" stroke="#000" stroke-width="1.1" />
<line x1="599.90" y1="153.40" x2="599.90" y2="151.60" stroke="#000" stroke-width="0.9" />
<line x1="602.79" y1="153.40" x2="602.79" y2="151.60" stroke="#000" stroke-width="0.9" />
<line x1="604.83" y1="153.40" x2="604.83" y2="151.60" stroke="#000" stroke-width="0.9" />
<line x1="606.42" y1="153.40" x2="606.42" y2="151.60" stroke="#000" stroke-width="0.9" />
<line x1="607.71" y1="153.40" x2="607.71" y2="151.60" stroke="#000" stroke-width="0.9" />
<line x1="608.81" y1="153.40" x2="608.81" y2="151.60" stroke="#000" stroke-width="0.9" />
<line x1="609.75" y1="153.40" x2="609.75" y2="151.60" stroke="#000" stroke-width="0.9" />
<line x1="610.59" y1="153.40" x2="610.59" y2="151.60" stroke="#000" stroke-width="0.9" />
<line x1="611.34" y1="153.40" x2="611.34" y2="149.90" stroke="#000" stroke-width="1.1" />
<line x1="616.26" y1="153.40" x2="616.26" y2="151.60" stroke="#000" stroke-width="0.9" />
<line x1="619.15" y1="153.40" x2="619.15" y2="151.60" stroke="#000" stroke-width="0.9" />
<line x1="621.19" y1="153.40" x2="621.19" y2="151.60" stroke="#000" stroke-width="0.9" />
<line x1="622.78" y1="153.40" x2="622.78" y2="151.60" stroke="#000" stroke-width="0.9" />
<line x1="624.07" y1="153.40" x2="624.07" y2="151.60" stroke="#000" stroke-width="0.9" />
<line x1="625.17" y1="153.40" x2="625.17" y2="151.60" stroke="#000" stroke-width="0.9" />
<line x1="626.11" y1="153.40" x2="626.11" y2="151.60" stroke="#000" stroke-width="0.9" />
<line x1="626.95" y1="153.40" x2="626.95" y2="151.60" stroke="#000" stroke-width="0.9" />
<line x1="627.70" y1="153.40" x2="627.70" y2="149.90" stroke="#000" stroke-width="1.1" />
<line x1="632.62" y1="153.40" x2="632.62" y2="151.60" stroke="#000" stroke-width="0.9" />
<line x1="635.51" y1="153.40" x2="635.51" y2="151.60" stroke="#000" stroke-width="0.9" />
<line x1="637.55" y1="153.40" x2="637.55" y2="151.60" stroke="#000" stroke-width="0.9" />
<line x1="639.14" y1="153.40" x2="639.14" y2="151.60" stroke="#000" stroke-width="0.9" />
<line x1="640.43" y1="153.40" x2="640.43" y2="151.60" stroke="#000" stroke-width="0.9" />
<line x1="641.53" y1="153.40" x2="641.53" y2="151.60" stroke="#000" stroke-width="0.9" />
<line x1="642.47" y1="153.40" x2="642.47" y2="151.60" stroke="#000" stroke-width="0.9" />
<line x1="643.31" y1="153.40" x2="643.31" y2="151.60" stroke="#000" stroke-width="0.9" />
<line x1="644.06" y1="153.40" x2="644.06" y2="149.90" stroke="#000" stroke-width="1.1" />
<line x1="648.98" y1="153.40" x2="648.98" y2="151.60" stroke="#000" stroke-width="0.9" />
<line x1="651.87" y1="153.40" x2="651.87" y2="151.60" stroke="#000" stroke-width="0.9" />
<line x1="653.91" y1="153.40" x2="653.91" y2="151.60" stroke="#000" stroke-width="0.9" />
<line x1="655.50" y1="153.40" x2="655.50" y2="151.60" stroke="#000" stroke-width="0.9" />
<line x1="656.79" y1="153.40" x2="656.79" y2="151.60" stroke="#000" stroke-width="0.9" />
<line x1="657.89" y1="153.40" x2="657.89" y2="151.60" stroke="#000" stroke-width="0.9" />
<line x1="658.83" y1="153.40" x2="658.83" y2="151.60" stroke="#000" stroke-width="0.9" />
<line x1="659.67" y1="153.40" x2="659.67" y2="151.60" stroke="#000" stroke-width="0.9" />
<line x1="660.42" y1="153.40" x2="660.42" y2="149.90" stroke="#000" stroke-width="1.1" />
<line x1="665.34" y1="153.40" x2="665.34" y2="151.60" stroke="#000" stroke-width="0.9" />
<line x1="668.23" y1="153.40" x2="668.23" y2="151.60" stroke="#000" stroke-width="0.9" />
<line x1="670.27" y1="153.40" x2="670.27" y2="151.60" stroke="#000" stroke-width="0.9" />
<line x1="671.86" y1="153.40" x2="671.86" y2="151.60" stroke="#000" stroke-width="0.9" />
<line x1="673.15" y1="153.40" x2="673.15" y2="151.60" stroke="#000" stroke-width="0.9" />
<line x1="674.25" y1="153.40" x2="674.25" y2="151.60" stroke="#000" stroke-width="0.9" />
<line x1="675.19" y1="153.40" x2="675.19" y2="151.60" stroke="#000" stroke-width="0.9" />
<line x1="676.03" y1="153.40" x2="676.03" y2="151.60" stroke="#000" stroke-width="0.9" />
<line x1="676.78" y1="153.40" x2="676.78" y2="149.90" stroke="#000" stroke-width="1.1" />
<text x="535.13" y="169.60" font-size="12.5" text-anchor="start" font-family="Liberation Sans, sans-serif" font-weight="bold" stroke="#000" stroke-width="0.22" >10</text>
<text x="549.13" y="163.60" font-size="8.6" text-anchor="start" font-family="Liberation Sans, sans-serif" font-weight="bold" stroke="#000" stroke-width="0.22" >-7</text>
<text x="567.85" y="169.60" font-size="12.5" text-anchor="start" font-family="Liberation Sans, sans-serif" font-weight="bold" stroke="#000" stroke-width="0.22" >10</text>
<text x="581.85" y="163.60" font-size="8.6" text-anchor="start" font-family="Liberation Sans, sans-serif" font-weight="bold" stroke="#000" stroke-width="0.22" >-5</text>
<text x="600.57" y="169.60" font-size="12.5" text-anchor="start" font-family="Liberation Sans, sans-serif" font-weight="bold" stroke="#000" stroke-width="0.22" >10</text>
<text x="614.57" y="163.60" font-size="8.6" text-anchor="start" font-family="Liberation Sans, sans-serif" font-weight="bold" stroke="#000" stroke-width="0.22" >-3</text>
<text x="633.29" y="169.60" font-size="12.5" text-anchor="start" font-family="Liberation Sans, sans-serif" font-weight="bold" stroke="#000" stroke-width="0.22" >10</text>
<text x="647.29" y="163.60" font-size="8.6" text-anchor="start" font-family="Liberation Sans, sans-serif" font-weight="bold" stroke="#000" stroke-width="0.22" >-1</text>
<text x="667.44" y="169.60" font-size="12.5" text-anchor="start" font-family="Liberation Sans, sans-serif" font-weight="bold" stroke="#000" stroke-width="0.22" >10</text>
<text x="681.44" y="163.60" font-size="8.6" text-anchor="start" font-family="Liberation Sans, sans-serif" font-weight="bold" stroke="#000" stroke-width="0.22" >1</text>
<text x="611.20" y="185.00" font-size="14.2" text-anchor="middle" font-family="Liberation Sans, sans-serif" font-weight="bold" stroke="#000" stroke-width="0.22" >Concentration (M)</text>
<text transform="translate(514.4,87.7) rotate(-90)" font-size="14.6" text-anchor="middle" font-family="Liberation Sans, sans-serif" font-weight="bold" stroke="#000" stroke-width="0.22">Conductance (S)</text>
<text x="638.00" y="132.00" font-size="12.8" text-anchor="start" font-family="Liberation Sans, sans-serif" font-weight="bold" stroke="#000" stroke-width="0.22" >Bulk</text>
<line x1="627.5" y1="133.5" x2="672.2" y2="40.0" stroke="#000" stroke-width="2.0" stroke-dasharray="2.0 2.9"/>
<circle cx="561.90" cy="129.90" r="2.85" fill="url(#sph)" />
<circle cx="578.30" cy="128.50" r="2.85" fill="url(#sph)" />
<circle cx="594.70" cy="120.70" r="2.85" fill="url(#sph)" />
<circle cx="611.10" cy="112.50" r="2.85" fill="url(#sph)" />
<circle cx="627.50" cy="110.80" r="2.85" fill="url(#sph)" />
<circle cx="635.30" cy="104.60" r="2.85" fill="url(#sph)" />
<circle cx="643.90" cy="92.40" r="2.85" fill="url(#sph)" />
<circle cx="655.50" cy="74.90" r="2.85" fill="url(#sph)" />
<circle cx="660.20" cy="65.00" r="2.85" fill="url(#sph)" />
<circle cx="665.40" cy="55.50" r="2.85" fill="url(#sph)" />
<circle cx="668.10" cy="48.00" r="2.85" fill="url(#sph)" />
<rect x="546.1" y="208.9" width="130.89999999999998" height="136.9" fill="none" stroke="#000" stroke-width="1.5"/>
<line x1="546.10" y1="332.60" x2="549.60" y2="332.60" stroke="#000" stroke-width="1.1" />
<text x="543.40" y="336.20" font-size="12.5" text-anchor="end" font-family="Liberation Sans, sans-serif" font-weight="bold" stroke="#000" stroke-width="0.22" >-40</text>
<line x1="546.10" y1="310.50" x2="549.60" y2="310.50" stroke="#000" stroke-width="1.1" />
<text x="543.40" y="314.10" font-size="12.5" text-anchor="end" font-family="Liberation Sans, sans-serif" font-weight="bold" stroke="#000" stroke-width="0.22" >0</text>
<line x1="546.10" y1="288.40" x2="549.60" y2="288.40" stroke="#000" stroke-width="1.1" />
<text x="543.40" y="292.00" font-size="12.5" text-anchor="end" font-family="Liberation Sans, sans-serif" font-weight="bold" stroke="#000" stroke-width="0.22" >40</text>
<line x1="546.10" y1="266.30" x2="549.60" y2="266.30" stroke="#000" stroke-width="1.1" />
<text x="543.40" y="269.90" font-size="12.5" text-anchor="end" font-family="Liberation Sans, sans-serif" font-weight="bold" stroke="#000" stroke-width="0.22" >80</text>
<line x1="546.10" y1="244.20" x2="549.60" y2="244.20" stroke="#000" stroke-width="1.1" />
<text x="543.40" y="247.80" font-size="12.5" text-anchor="end" font-family="Liberation Sans, sans-serif" font-weight="bold" stroke="#000" stroke-width="0.22" >120</text>
<line x1="546.10" y1="222.10" x2="549.60" y2="222.10" stroke="#000" stroke-width="1.1" />
<text x="543.40" y="225.70" font-size="12.5" text-anchor="end" font-family="Liberation Sans, sans-serif" font-weight="bold" stroke="#000" stroke-width="0.22" >160</text>
<line x1="546.20" y1="345.80" x2="546.20" y2="342.30" stroke="#000" stroke-width="1.1" />
<text x="546.20" y="359.70" font-size="12.5" text-anchor="middle" font-family="Liberation Sans, sans-serif" font-weight="bold" stroke="#000" stroke-width="0.22" >0</text>
<line x1="569.98" y1="345.80" x2="569.98" y2="342.30" stroke="#000" stroke-width="1.1" />
<text x="569.98" y="359.70" font-size="12.5" text-anchor="middle" font-family="Liberation Sans, sans-serif" font-weight="bold" stroke="#000" stroke-width="0.22" >10</text>
<line x1="593.76" y1="345.80" x2="593.76" y2="342.30" stroke="#000" stroke-width="1.1" />
<text x="593.76" y="359.70" font-size="12.5" text-anchor="middle" font-family="Liberation Sans, sans-serif" font-weight="bold" stroke="#000" stroke-width="0.22" >20</text>
<line x1="617.54" y1="345.80" x2="617.54" y2="342.30" stroke="#000" stroke-width="1.1" />
<text x="617.54" y="359.70" font-size="12.5" text-anchor="middle" font-family="Liberation Sans, sans-serif" font-weight="bold" stroke="#000" stroke-width="0.22" >30</text>
<line x1="641.32" y1="345.80" x2="641.32" y2="342.30" stroke="#000" stroke-width="1.1" />
<text x="641.32" y="359.70" font-size="12.5" text-anchor="middle" font-family="Liberation Sans, sans-serif" font-weight="bold" stroke="#000" stroke-width="0.22" >40</text>
<line x1="665.10" y1="345.80" x2="665.10" y2="342.30" stroke="#000" stroke-width="1.1" />
<text x="665.10" y="359.70" font-size="12.5" text-anchor="middle" font-family="Liberation Sans, sans-serif" font-weight="bold" stroke="#000" stroke-width="0.22" >50</text>
<line x1="558.09" y1="345.80" x2="558.09" y2="344.00" stroke="#000" stroke-width="0.9" />
<line x1="581.87" y1="345.80" x2="581.87" y2="344.00" stroke="#000" stroke-width="0.9" />
<line x1="605.65" y1="345.80" x2="605.65" y2="344.00" stroke="#000" stroke-width="0.9" />
<line x1="629.43" y1="345.80" x2="629.43" y2="344.00" stroke="#000" stroke-width="0.9" />
<line x1="653.21" y1="345.80" x2="653.21" y2="344.00" stroke="#000" stroke-width="0.9" />
<text x="612.00" y="378.20" font-size="14" text-anchor="middle" font-family="Liberation Sans, sans-serif" font-weight="bold" stroke="#000" stroke-width="0.22" >Time (min)</text>
<text transform="translate(516.3,283.5) rotate(-90)" font-size="14" text-anchor="middle" font-family="Liberation Sans, sans-serif" font-weight="bold" stroke="#000" stroke-width="0.22">Current (nA)</text>
<line x1="558.40" y1="224.40" x2="569.70" y2="224.40" stroke="#ff1414" stroke-width="3.1" stroke-linecap="round"/>
<line x1="582.10" y1="224.40" x2="593.40" y2="224.40" stroke="#ff1414" stroke-width="3.1" stroke-linecap="round"/>
<line x1="606.10" y1="224.40" x2="617.10" y2="224.40" stroke="#ff1414" stroke-width="3.1" stroke-linecap="round"/>
<line x1="629.90" y1="224.40" x2="641.40" y2="224.40" stroke="#ff1414" stroke-width="3.1" stroke-linecap="round"/>
<line x1="653.60" y1="224.40" x2="665.00" y2="224.40" stroke="#ff1414" stroke-width="3.1" stroke-linecap="round"/>
<line x1="547.70" y1="331.80" x2="557.50" y2="331.80" stroke="#1c1cc4" stroke-width="2.9" stroke-linecap="round"/>
<line x1="570.20" y1="331.80" x2="581.00" y2="331.80" stroke="#1c1cc4" stroke-width="2.9" stroke-linecap="round"/>
<line x1="593.70" y1="331.80" x2="604.80" y2="331.80" stroke="#1c1cc4" stroke-width="2.9" stroke-linecap="round"/>
<line x1="617.60" y1="331.80" x2="628.40" y2="331.80" stroke="#1c1cc4" stroke-width="2.9" stroke-linecap="round"/>
<line x1="641.50" y1="331.80" x2="652.50" y2="331.80" stroke="#1c1cc4" stroke-width="2.9" stroke-linecap="round"/>
<line x1="665.40" y1="331.80" x2="675.60" y2="331.80" stroke="#1c1cc4" stroke-width="2.9" stroke-linecap="round"/>
</svg>
</body></html>
